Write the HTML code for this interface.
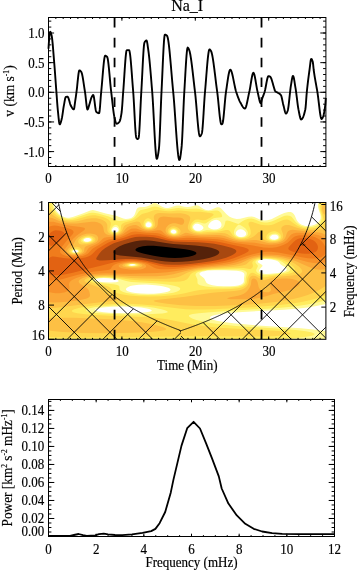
<!DOCTYPE html><html><head><meta charset="utf-8"><style>html,body{margin:0;padding:0;background:#fff;width:357px;height:570px;overflow:hidden}svg{display:block;will-change:transform;filter:blur(0.35px)}text{font-family:"Liberation Serif",serif;stroke:#000;stroke-width:0.18px}</style></head><body><svg xmlns="http://www.w3.org/2000/svg" width="357" height="570" viewBox="0 0 357 570" font-family='"Liberation Serif", serif'><defs><clipPath id="mclip"><rect x="48.5" y="202.5" width="277.4" height="136.8"/></clipPath></defs><rect width="357" height="570" fill="#fff"/>
<text transform="translate(187.2,11.2) scale(0.9259,1)" font-size="17.28" text-anchor="middle" >Na_I</text>
<line x1="48.5" y1="92.3" x2="325.9" y2="92.3" stroke="#777" stroke-width="1.0" />
<line x1="114.56" y1="166.5" x2="114.56" y2="17.5" stroke="#000" stroke-width="1.8" stroke-dasharray="9.6 10.25"/>
<line x1="261.51" y1="166.5" x2="261.51" y2="17.5" stroke="#000" stroke-width="1.8" stroke-dasharray="9.6 10.25"/>
<polyline fill="none" stroke="#000" stroke-width="1.9" stroke-linejoin="round" points="48.50,48.70 48.80,43.89 49.10,39.65 49.40,36.16 49.70,33.58 50.00,32.10 50.30,31.83 50.60,32.20 50.90,32.92 51.20,33.89 51.50,35.01 51.80,36.36 52.10,38.41 52.40,41.07 52.70,44.21 53.00,47.70 53.30,51.40 53.60,55.18 53.90,58.91 54.20,62.48 54.50,66.21 54.80,70.14 55.10,74.21 55.40,78.36 55.70,82.54 56.00,86.67 56.30,90.69 56.60,94.65 56.90,98.76 57.20,102.83 57.50,106.65 57.80,110.02 58.10,112.95 58.40,115.99 58.70,118.92 59.00,121.47 59.30,123.36 59.60,124.33 59.90,124.32 60.20,123.91 60.50,123.22 60.80,122.34 61.10,121.31 61.40,120.23 61.70,119.12 62.00,117.68 62.30,115.92 62.60,113.93 62.90,111.83 63.20,109.72 63.50,107.72 63.80,105.93 64.10,104.33 64.40,102.61 64.70,100.88 65.00,99.31 65.30,98.03 65.60,97.22 65.90,96.97 66.20,96.88 66.50,96.81 66.80,96.75 67.10,96.72 67.40,96.70 67.70,96.77 68.00,97.12 68.30,97.72 68.60,98.52 68.90,99.47 69.20,100.51 69.50,101.61 69.80,102.71 70.10,103.75 70.40,104.70 70.70,105.50 71.00,106.10 71.30,106.59 71.60,107.09 71.90,107.57 72.20,108.03 72.50,108.45 72.80,108.81 73.10,109.10 73.40,109.30 73.70,109.39 74.00,109.10 74.30,107.75 74.60,105.68 74.90,103.36 75.20,101.20 75.50,99.20 75.80,97.09 76.10,94.92 76.40,92.73 76.70,90.45 77.00,87.82 77.30,84.94 77.60,81.97 77.90,79.05 78.20,76.33 78.50,73.96 78.80,72.08 79.10,70.84 79.40,70.40 79.70,70.45 80.00,70.60 80.30,70.82 80.60,71.10 80.90,71.44 81.20,71.80 81.50,72.34 81.80,73.20 82.10,74.32 82.40,75.69 82.70,77.26 83.00,78.99 83.30,80.85 83.60,82.79 83.90,84.80 84.20,86.82 84.50,88.81 84.80,90.76 85.10,92.64 85.40,94.92 85.70,97.56 86.00,100.36 86.30,103.10 86.60,105.59 86.90,107.63 87.20,109.00 87.50,109.50 87.80,109.28 88.10,108.69 88.40,107.82 88.70,106.79 89.00,105.70 89.30,104.64 89.60,103.69 89.90,102.69 90.20,101.61 90.50,100.51 90.80,99.45 91.10,98.50 91.40,97.71 91.70,97.09 92.00,96.48 92.30,95.91 92.60,95.44 92.90,95.12 93.20,95.00 93.50,95.42 93.80,96.56 94.10,98.26 94.40,100.35 94.70,102.66 95.00,105.02 95.30,107.27 95.60,109.24 95.90,110.76 96.20,111.66 96.50,111.98 96.80,112.22 97.10,112.45 97.40,112.64 97.70,112.82 98.00,112.96 98.30,113.07 98.60,113.15 98.90,113.19 99.20,113.10 99.50,111.77 99.80,109.17 100.10,105.71 100.40,101.77 100.70,97.74 101.00,94.02 101.30,90.92 101.60,87.77 101.90,84.38 102.20,80.83 102.50,77.22 102.80,73.62 103.10,70.12 103.40,66.81 103.70,63.77 104.00,61.09 104.30,58.86 104.60,57.16 104.90,56.08 105.20,55.70 105.50,55.73 105.80,55.83 106.10,55.99 106.40,56.19 106.70,56.43 107.00,56.70 107.30,57.14 107.60,58.18 107.90,59.78 108.20,61.86 108.50,64.33 108.80,67.14 109.10,70.18 109.40,73.40 109.70,76.71 110.00,80.03 110.30,83.29 110.60,86.41 110.90,89.30 111.20,91.90 111.50,94.40 111.80,97.00 112.10,99.67 112.40,102.36 112.70,105.01 113.00,107.59 113.30,110.03 113.60,112.31 113.90,114.36 114.20,116.13 114.50,117.59 114.80,118.78 115.10,119.94 115.40,121.04 115.70,122.02 116.00,122.82 116.30,123.40 116.60,123.68 116.90,123.69 117.20,123.62 117.50,123.50 117.80,123.33 118.10,123.11 118.40,122.85 118.70,122.56 119.00,122.22 119.30,121.86 119.60,121.45 119.90,120.80 120.20,119.86 120.50,118.67 120.80,117.24 121.10,115.61 121.40,113.79 121.70,111.76 122.00,108.71 122.30,104.77 122.60,100.37 122.90,95.93 123.20,91.90 123.50,87.98 123.80,83.68 124.10,79.15 124.40,74.51 124.70,69.90 125.00,65.47 125.30,61.34 125.60,57.66 125.90,54.56 126.20,52.17 126.50,50.64 126.80,50.10 127.10,50.10 127.40,50.10 127.70,50.10 128.00,50.10 128.30,50.10 128.60,50.10 128.90,50.10 129.20,50.27 129.50,51.11 129.80,52.59 130.10,54.65 130.40,57.20 130.70,60.18 131.00,63.52 131.30,67.13 131.60,70.96 131.90,74.92 132.20,78.95 132.50,82.97 132.80,86.90 133.10,90.69 133.40,94.53 133.70,99.19 134.00,104.49 134.30,110.16 134.60,115.92 134.90,121.52 135.20,126.70 135.50,131.17 135.80,134.69 136.10,136.98 136.40,137.88 136.70,138.36 137.00,138.73 137.30,138.95 137.60,138.99 137.90,138.89 138.20,138.68 138.50,138.40 138.80,137.13 139.10,134.15 139.40,129.80 139.70,124.41 140.00,118.32 140.30,111.85 140.60,105.35 140.90,99.14 141.20,93.56 141.50,88.55 141.80,83.06 142.10,77.20 142.40,71.20 142.70,65.24 143.00,59.55 143.30,54.34 143.60,49.81 143.90,46.17 144.20,43.63 144.50,42.40 144.80,41.92 145.10,41.50 145.40,41.14 145.70,40.85 146.00,40.64 146.30,40.52 146.60,40.55 146.90,41.24 147.20,42.59 147.50,44.41 147.80,46.51 148.10,48.69 148.40,50.80 148.70,53.08 149.00,55.61 149.30,58.37 149.60,61.34 149.90,64.48 150.20,67.78 150.50,71.21 150.80,74.74 151.10,78.36 151.40,82.03 151.70,85.73 152.00,89.44 152.30,93.17 152.60,97.43 152.90,102.26 153.20,107.54 153.50,113.13 153.80,118.91 154.10,124.76 154.40,130.53 154.70,136.11 155.00,141.35 155.30,146.15 155.60,150.36 155.90,153.86 156.20,156.52 156.50,158.21 156.80,158.80 157.10,158.53 157.40,157.78 157.70,156.60 158.00,155.07 158.30,153.25 158.60,151.20 158.90,149.00 159.20,145.72 159.50,140.65 159.80,134.22 160.10,126.84 160.40,118.92 160.70,110.86 161.00,103.10 161.30,96.02 161.60,89.95 161.90,83.73 162.20,77.15 162.50,70.39 162.80,63.66 163.10,57.17 163.40,51.12 163.70,45.72 164.00,41.16 164.30,37.65 164.60,35.40 164.90,34.60 165.20,34.63 165.50,34.72 165.80,34.87 166.10,35.05 166.40,35.27 166.70,35.53 167.00,35.80 167.30,36.30 167.60,37.21 167.90,38.51 168.20,40.17 168.50,42.14 168.80,44.41 169.10,46.94 169.40,49.71 169.70,52.67 170.00,55.81 170.30,59.09 170.60,62.47 170.90,65.94 171.20,69.46 171.50,72.99 171.80,76.51 172.10,79.99 172.40,83.40 172.70,86.71 173.00,89.88 173.30,92.91 173.60,96.19 173.90,99.77 174.20,103.62 174.50,107.68 174.80,111.90 175.10,116.24 175.40,120.62 175.70,125.02 176.00,129.38 176.30,133.64 176.60,137.76 176.90,141.68 177.20,145.36 177.50,148.74 177.80,151.77 178.10,154.41 178.40,156.60 178.70,158.29 179.00,159.43 179.30,159.96 179.60,159.84 179.90,159.07 180.20,157.74 180.50,155.95 180.80,153.81 181.10,151.41 181.40,148.86 181.70,145.90 182.00,141.52 182.30,135.94 182.60,129.49 182.90,122.48 183.20,115.25 183.50,108.10 183.80,101.36 184.10,95.34 184.40,90.29 184.70,85.25 185.00,80.02 185.30,74.74 185.60,69.54 185.90,64.57 186.20,59.98 186.50,55.90 186.80,52.48 187.10,49.87 187.40,48.19 187.70,47.60 188.00,47.74 188.30,48.13 188.60,48.69 188.90,49.34 189.20,50.04 189.50,50.94 189.80,52.09 190.10,53.46 190.40,55.04 190.70,56.81 191.00,58.75 191.30,60.84 191.60,63.07 191.90,65.41 192.20,67.85 192.50,70.37 192.80,72.94 193.10,75.56 193.40,78.20 193.70,80.84 194.00,83.48 194.30,86.07 194.60,88.62 194.90,91.09 195.20,93.59 195.50,96.42 195.80,99.55 196.10,102.91 196.40,106.43 196.70,110.03 197.00,113.67 197.30,117.25 197.60,120.73 197.90,124.02 198.20,127.06 198.50,129.79 198.80,132.13 199.10,134.01 199.40,135.37 199.70,136.15 200.00,136.29 200.30,136.14 200.60,135.84 200.90,135.41 201.20,134.86 201.50,134.21 201.80,133.50 202.10,132.14 202.40,129.69 202.70,126.33 203.00,122.28 203.30,117.72 203.60,112.86 203.90,107.88 204.20,103.00 204.50,98.40 204.80,94.28 205.10,90.78 205.40,87.29 205.70,83.62 206.00,79.86 206.30,76.05 206.60,72.27 206.90,68.57 207.20,65.01 207.50,61.67 207.80,58.60 208.10,55.87 208.40,53.53 208.70,51.66 209.00,50.31 209.30,49.55 209.60,49.41 209.90,49.56 210.20,49.84 210.50,50.22 210.80,50.65 211.10,51.16 211.40,51.91 211.70,52.90 212.00,54.12 212.30,55.53 212.60,57.14 212.90,58.91 213.20,60.83 213.50,62.88 213.80,65.05 214.10,67.31 214.40,69.65 214.70,72.04 215.00,74.48 215.30,76.94 215.60,79.41 215.90,81.86 216.20,84.28 216.50,86.66 216.80,88.96 217.10,91.18 217.40,93.41 217.70,95.93 218.00,98.72 218.30,101.69 218.60,104.76 218.90,107.85 219.20,110.90 219.50,113.82 219.80,116.53 220.10,118.96 220.40,121.04 220.70,122.68 221.00,123.82 221.30,124.36 221.60,124.36 221.90,124.19 222.20,123.92 222.50,123.54 222.80,122.52 223.10,120.77 223.40,118.44 223.70,115.63 224.00,112.48 224.30,109.11 224.60,105.65 224.90,102.22 225.20,98.94 225.50,95.94 225.80,93.34 226.10,91.24 226.40,89.20 226.70,87.10 227.00,84.99 227.30,82.88 227.60,80.82 227.90,78.84 228.20,76.97 228.50,75.24 228.80,73.68 229.10,72.34 229.40,71.23 229.70,70.40 230.00,69.88 230.30,69.70 230.60,69.82 230.90,70.18 231.20,70.74 231.50,71.50 231.80,72.42 232.10,73.49 232.40,74.69 232.70,75.99 233.00,77.38 233.30,78.83 233.60,80.32 233.90,81.84 234.20,83.35 234.50,84.84 234.80,86.30 235.10,87.68 235.40,88.99 235.70,90.19 236.00,91.26 236.30,92.20 236.60,93.10 236.90,93.98 237.20,94.86 237.50,95.72 237.80,96.56 238.10,97.38 238.40,98.18 238.70,98.94 239.00,99.68 239.30,100.38 239.60,101.04 239.90,101.66 240.20,102.24 240.50,102.77 240.80,103.31 241.10,103.85 241.40,104.40 241.70,104.93 242.00,105.46 242.30,105.97 242.60,106.45 242.90,106.90 243.20,107.30 243.50,107.66 243.80,107.97 244.10,108.21 244.40,108.38 244.70,108.48 245.00,108.48 245.30,108.25 245.60,107.76 245.90,107.05 246.20,106.14 246.50,105.06 246.80,103.83 247.10,102.50 247.40,101.07 247.70,99.59 248.00,98.08 248.30,96.58 248.60,95.09 248.90,93.67 249.20,92.32 249.50,91.01 249.80,89.51 250.10,87.84 250.40,86.05 250.70,84.21 251.00,82.34 251.30,80.51 251.60,78.76 251.90,77.15 252.20,75.71 252.50,74.51 252.80,73.59 253.10,73.01 253.40,72.80 253.70,73.00 254.00,73.57 254.30,74.45 254.60,75.61 254.90,77.00 255.20,78.57 255.50,80.26 255.80,82.05 256.10,83.87 256.40,85.68 256.70,87.44 257.00,89.09 257.30,90.59 257.60,91.90 257.90,93.16 258.20,94.53 258.50,95.95 258.80,97.37 259.10,98.75 259.40,100.03 259.70,101.17 260.00,102.11 260.30,102.81 260.60,103.22 260.90,103.23 261.20,102.37 261.50,101.02 261.80,99.80 262.10,98.88 262.40,98.02 262.70,97.21 263.00,96.41 263.30,95.63 263.60,94.83 263.90,94.01 264.20,93.15 264.50,92.22 264.80,91.19 265.10,89.94 265.40,88.51 265.70,86.97 266.00,85.36 266.30,83.73 266.60,82.13 266.90,80.62 267.20,79.24 267.50,78.06 267.80,77.10 268.10,76.44 268.40,76.12 268.70,76.11 269.00,76.18 269.30,76.29 269.60,76.44 269.90,76.61 270.20,76.80 270.50,77.09 270.80,77.56 271.10,78.17 271.40,78.92 271.70,79.78 272.00,80.72 272.30,81.73 272.60,82.79 272.90,83.87 273.20,84.95 273.50,86.02 273.80,87.04 274.10,88.00 274.40,89.08 274.70,90.19 275.00,90.90 275.30,91.23 275.60,91.49 275.90,91.70 276.20,91.87 276.50,92.02 276.80,92.16 277.10,92.30 277.40,92.47 277.70,92.67 278.00,92.86 278.30,93.04 278.60,93.21 278.90,93.38 279.20,93.56 279.50,93.76 279.80,93.98 280.10,94.23 280.40,94.52 280.70,94.85 281.00,95.25 281.30,95.97 281.60,97.00 281.90,98.27 282.20,99.68 282.50,101.16 282.80,102.63 283.10,104.01 283.40,105.20 283.70,106.35 284.00,107.61 284.30,108.91 284.60,110.17 284.90,111.33 285.20,112.32 285.50,113.07 285.80,113.51 286.10,113.59 286.40,113.38 286.70,112.97 287.00,112.41 287.30,111.73 287.60,111.00 287.90,109.94 288.20,108.33 288.50,106.27 288.80,103.85 289.10,101.18 289.40,98.37 289.70,95.50 290.00,92.69 290.30,90.03 290.60,87.63 290.90,85.58 291.20,83.84 291.50,82.01 291.80,80.19 292.10,78.53 292.40,77.16 292.70,76.24 293.00,75.90 293.30,76.20 293.60,77.03 293.90,78.29 294.20,79.87 294.50,81.68 294.80,83.60 295.10,85.55 295.40,87.41 295.70,89.21 296.00,91.24 296.30,93.46 296.60,95.81 296.90,98.23 297.20,100.66 297.50,103.03 297.80,105.27 298.10,107.34 298.40,109.16 298.70,110.69 299.00,112.20 299.30,113.74 299.60,115.22 299.90,116.58 300.20,117.76 300.50,118.68 300.80,119.28 301.10,119.50 301.40,119.44 301.70,119.27 302.00,118.99 302.30,118.60 302.60,118.10 302.90,117.51 303.20,116.82 303.50,116.03 303.80,115.15 304.10,114.18 304.40,113.13 304.70,112.00 305.00,110.79 305.30,109.50 305.60,107.31 305.90,103.83 306.20,99.70 306.50,95.57 306.80,92.10 307.10,89.24 307.40,86.52 307.70,83.91 308.00,81.40 308.30,78.99 308.60,76.66 308.90,74.39 309.20,72.18 309.50,70.00 309.80,67.62 310.10,65.02 310.40,62.53 310.70,60.47 311.00,59.18 311.30,58.91 311.60,59.13 311.90,59.58 312.20,60.23 312.50,61.04 312.80,62.00 313.10,64.03 313.40,67.16 313.70,70.00 314.00,72.16 314.30,74.19 314.60,76.10 314.90,77.92 315.20,79.66 315.50,81.36 315.80,83.01 316.10,84.66 316.40,86.31 316.70,87.98 317.00,89.70 317.30,91.49 317.60,93.40 317.90,95.55 318.20,97.89 318.50,100.37 318.80,102.92 319.10,105.47 319.40,107.98 319.70,110.37 320.00,112.59 320.30,114.58 320.60,116.27 320.90,117.61 321.20,118.53 321.50,118.97 321.80,118.94 322.10,118.64 322.40,118.15 322.70,117.52 323.00,116.80 323.30,116.03 323.60,115.06 323.90,113.84 324.20,112.35 324.50,110.61 324.80,108.61 325.10,106.35 325.40,103.69 325.70,99.51 325.80,98.00"/>
<line x1="48.5" y1="166.5" x2="48.5" y2="165" stroke="#000" stroke-width="1.0" />
<line x1="48.5" y1="17.5" x2="48.5" y2="19" stroke="#000" stroke-width="1.0" />
<line x1="55.84" y1="166.5" x2="55.84" y2="165" stroke="#000" stroke-width="1.0" />
<line x1="55.84" y1="17.5" x2="55.84" y2="19" stroke="#000" stroke-width="1.0" />
<line x1="63.18" y1="166.5" x2="63.18" y2="165" stroke="#000" stroke-width="1.0" />
<line x1="63.18" y1="17.5" x2="63.18" y2="19" stroke="#000" stroke-width="1.0" />
<line x1="70.52" y1="166.5" x2="70.52" y2="165" stroke="#000" stroke-width="1.0" />
<line x1="70.52" y1="17.5" x2="70.52" y2="19" stroke="#000" stroke-width="1.0" />
<line x1="77.86" y1="166.5" x2="77.86" y2="165" stroke="#000" stroke-width="1.0" />
<line x1="77.86" y1="17.5" x2="77.86" y2="19" stroke="#000" stroke-width="1.0" />
<line x1="85.2" y1="166.5" x2="85.2" y2="165" stroke="#000" stroke-width="1.0" />
<line x1="85.2" y1="17.5" x2="85.2" y2="19" stroke="#000" stroke-width="1.0" />
<line x1="92.54" y1="166.5" x2="92.54" y2="165" stroke="#000" stroke-width="1.0" />
<line x1="92.54" y1="17.5" x2="92.54" y2="19" stroke="#000" stroke-width="1.0" />
<line x1="99.88" y1="166.5" x2="99.88" y2="165" stroke="#000" stroke-width="1.0" />
<line x1="99.88" y1="17.5" x2="99.88" y2="19" stroke="#000" stroke-width="1.0" />
<line x1="107.22" y1="166.5" x2="107.22" y2="165" stroke="#000" stroke-width="1.0" />
<line x1="107.22" y1="17.5" x2="107.22" y2="19" stroke="#000" stroke-width="1.0" />
<line x1="114.56" y1="166.5" x2="114.56" y2="165" stroke="#000" stroke-width="1.0" />
<line x1="114.56" y1="17.5" x2="114.56" y2="19" stroke="#000" stroke-width="1.0" />
<line x1="121.9" y1="166.5" x2="121.9" y2="165" stroke="#000" stroke-width="1.0" />
<line x1="121.9" y1="17.5" x2="121.9" y2="19" stroke="#000" stroke-width="1.0" />
<line x1="129.24" y1="166.5" x2="129.24" y2="165" stroke="#000" stroke-width="1.0" />
<line x1="129.24" y1="17.5" x2="129.24" y2="19" stroke="#000" stroke-width="1.0" />
<line x1="136.58" y1="166.5" x2="136.58" y2="165" stroke="#000" stroke-width="1.0" />
<line x1="136.58" y1="17.5" x2="136.58" y2="19" stroke="#000" stroke-width="1.0" />
<line x1="143.92" y1="166.5" x2="143.92" y2="165" stroke="#000" stroke-width="1.0" />
<line x1="143.92" y1="17.5" x2="143.92" y2="19" stroke="#000" stroke-width="1.0" />
<line x1="151.26" y1="166.5" x2="151.26" y2="165" stroke="#000" stroke-width="1.0" />
<line x1="151.26" y1="17.5" x2="151.26" y2="19" stroke="#000" stroke-width="1.0" />
<line x1="158.6" y1="166.5" x2="158.6" y2="165" stroke="#000" stroke-width="1.0" />
<line x1="158.6" y1="17.5" x2="158.6" y2="19" stroke="#000" stroke-width="1.0" />
<line x1="165.94" y1="166.5" x2="165.94" y2="165" stroke="#000" stroke-width="1.0" />
<line x1="165.94" y1="17.5" x2="165.94" y2="19" stroke="#000" stroke-width="1.0" />
<line x1="173.28" y1="166.5" x2="173.28" y2="165" stroke="#000" stroke-width="1.0" />
<line x1="173.28" y1="17.5" x2="173.28" y2="19" stroke="#000" stroke-width="1.0" />
<line x1="180.62" y1="166.5" x2="180.62" y2="165" stroke="#000" stroke-width="1.0" />
<line x1="180.62" y1="17.5" x2="180.62" y2="19" stroke="#000" stroke-width="1.0" />
<line x1="187.96" y1="166.5" x2="187.96" y2="165" stroke="#000" stroke-width="1.0" />
<line x1="187.96" y1="17.5" x2="187.96" y2="19" stroke="#000" stroke-width="1.0" />
<line x1="195.3" y1="166.5" x2="195.3" y2="165" stroke="#000" stroke-width="1.0" />
<line x1="195.3" y1="17.5" x2="195.3" y2="19" stroke="#000" stroke-width="1.0" />
<line x1="202.64" y1="166.5" x2="202.64" y2="165" stroke="#000" stroke-width="1.0" />
<line x1="202.64" y1="17.5" x2="202.64" y2="19" stroke="#000" stroke-width="1.0" />
<line x1="209.98" y1="166.5" x2="209.98" y2="165" stroke="#000" stroke-width="1.0" />
<line x1="209.98" y1="17.5" x2="209.98" y2="19" stroke="#000" stroke-width="1.0" />
<line x1="217.32" y1="166.5" x2="217.32" y2="165" stroke="#000" stroke-width="1.0" />
<line x1="217.32" y1="17.5" x2="217.32" y2="19" stroke="#000" stroke-width="1.0" />
<line x1="224.66" y1="166.5" x2="224.66" y2="165" stroke="#000" stroke-width="1.0" />
<line x1="224.66" y1="17.5" x2="224.66" y2="19" stroke="#000" stroke-width="1.0" />
<line x1="232" y1="166.5" x2="232" y2="165" stroke="#000" stroke-width="1.0" />
<line x1="232" y1="17.5" x2="232" y2="19" stroke="#000" stroke-width="1.0" />
<line x1="239.34" y1="166.5" x2="239.34" y2="165" stroke="#000" stroke-width="1.0" />
<line x1="239.34" y1="17.5" x2="239.34" y2="19" stroke="#000" stroke-width="1.0" />
<line x1="246.68" y1="166.5" x2="246.68" y2="165" stroke="#000" stroke-width="1.0" />
<line x1="246.68" y1="17.5" x2="246.68" y2="19" stroke="#000" stroke-width="1.0" />
<line x1="254.02" y1="166.5" x2="254.02" y2="165" stroke="#000" stroke-width="1.0" />
<line x1="254.02" y1="17.5" x2="254.02" y2="19" stroke="#000" stroke-width="1.0" />
<line x1="261.36" y1="166.5" x2="261.36" y2="165" stroke="#000" stroke-width="1.0" />
<line x1="261.36" y1="17.5" x2="261.36" y2="19" stroke="#000" stroke-width="1.0" />
<line x1="268.7" y1="166.5" x2="268.7" y2="165" stroke="#000" stroke-width="1.0" />
<line x1="268.7" y1="17.5" x2="268.7" y2="19" stroke="#000" stroke-width="1.0" />
<line x1="276.04" y1="166.5" x2="276.04" y2="165" stroke="#000" stroke-width="1.0" />
<line x1="276.04" y1="17.5" x2="276.04" y2="19" stroke="#000" stroke-width="1.0" />
<line x1="283.38" y1="166.5" x2="283.38" y2="165" stroke="#000" stroke-width="1.0" />
<line x1="283.38" y1="17.5" x2="283.38" y2="19" stroke="#000" stroke-width="1.0" />
<line x1="290.72" y1="166.5" x2="290.72" y2="165" stroke="#000" stroke-width="1.0" />
<line x1="290.72" y1="17.5" x2="290.72" y2="19" stroke="#000" stroke-width="1.0" />
<line x1="298.06" y1="166.5" x2="298.06" y2="165" stroke="#000" stroke-width="1.0" />
<line x1="298.06" y1="17.5" x2="298.06" y2="19" stroke="#000" stroke-width="1.0" />
<line x1="305.4" y1="166.5" x2="305.4" y2="165" stroke="#000" stroke-width="1.0" />
<line x1="305.4" y1="17.5" x2="305.4" y2="19" stroke="#000" stroke-width="1.0" />
<line x1="312.74" y1="166.5" x2="312.74" y2="165" stroke="#000" stroke-width="1.0" />
<line x1="312.74" y1="17.5" x2="312.74" y2="19" stroke="#000" stroke-width="1.0" />
<line x1="320.08" y1="166.5" x2="320.08" y2="165" stroke="#000" stroke-width="1.0" />
<line x1="320.08" y1="17.5" x2="320.08" y2="19" stroke="#000" stroke-width="1.0" />
<line x1="48.5" y1="166.5" x2="48.5" y2="163.3" stroke="#000" stroke-width="1.0" />
<line x1="48.5" y1="17.5" x2="48.5" y2="20.7" stroke="#000" stroke-width="1.0" />
<line x1="121.9" y1="166.5" x2="121.9" y2="163.3" stroke="#000" stroke-width="1.0" />
<line x1="121.9" y1="17.5" x2="121.9" y2="20.7" stroke="#000" stroke-width="1.0" />
<line x1="195.3" y1="166.5" x2="195.3" y2="163.3" stroke="#000" stroke-width="1.0" />
<line x1="195.3" y1="17.5" x2="195.3" y2="20.7" stroke="#000" stroke-width="1.0" />
<line x1="268.7" y1="166.5" x2="268.7" y2="163.3" stroke="#000" stroke-width="1.0" />
<line x1="268.7" y1="17.5" x2="268.7" y2="20.7" stroke="#000" stroke-width="1.0" />
<line x1="48.5" y1="163.46" x2="51.3" y2="163.46" stroke="#000" stroke-width="1.0" />
<line x1="325.9" y1="163.46" x2="323.1" y2="163.46" stroke="#000" stroke-width="1.0" />
<line x1="48.5" y1="157.53" x2="51.3" y2="157.53" stroke="#000" stroke-width="1.0" />
<line x1="325.9" y1="157.53" x2="323.1" y2="157.53" stroke="#000" stroke-width="1.0" />
<line x1="48.5" y1="151.6" x2="51.3" y2="151.6" stroke="#000" stroke-width="1.0" />
<line x1="325.9" y1="151.6" x2="323.1" y2="151.6" stroke="#000" stroke-width="1.0" />
<line x1="48.5" y1="145.67" x2="51.3" y2="145.67" stroke="#000" stroke-width="1.0" />
<line x1="325.9" y1="145.67" x2="323.1" y2="145.67" stroke="#000" stroke-width="1.0" />
<line x1="48.5" y1="139.74" x2="51.3" y2="139.74" stroke="#000" stroke-width="1.0" />
<line x1="325.9" y1="139.74" x2="323.1" y2="139.74" stroke="#000" stroke-width="1.0" />
<line x1="48.5" y1="133.81" x2="51.3" y2="133.81" stroke="#000" stroke-width="1.0" />
<line x1="325.9" y1="133.81" x2="323.1" y2="133.81" stroke="#000" stroke-width="1.0" />
<line x1="48.5" y1="127.88" x2="51.3" y2="127.88" stroke="#000" stroke-width="1.0" />
<line x1="325.9" y1="127.88" x2="323.1" y2="127.88" stroke="#000" stroke-width="1.0" />
<line x1="48.5" y1="121.95" x2="51.3" y2="121.95" stroke="#000" stroke-width="1.0" />
<line x1="325.9" y1="121.95" x2="323.1" y2="121.95" stroke="#000" stroke-width="1.0" />
<line x1="48.5" y1="116.02" x2="51.3" y2="116.02" stroke="#000" stroke-width="1.0" />
<line x1="325.9" y1="116.02" x2="323.1" y2="116.02" stroke="#000" stroke-width="1.0" />
<line x1="48.5" y1="110.09" x2="51.3" y2="110.09" stroke="#000" stroke-width="1.0" />
<line x1="325.9" y1="110.09" x2="323.1" y2="110.09" stroke="#000" stroke-width="1.0" />
<line x1="48.5" y1="104.16" x2="51.3" y2="104.16" stroke="#000" stroke-width="1.0" />
<line x1="325.9" y1="104.16" x2="323.1" y2="104.16" stroke="#000" stroke-width="1.0" />
<line x1="48.5" y1="98.23" x2="51.3" y2="98.23" stroke="#000" stroke-width="1.0" />
<line x1="325.9" y1="98.23" x2="323.1" y2="98.23" stroke="#000" stroke-width="1.0" />
<line x1="48.5" y1="92.3" x2="51.3" y2="92.3" stroke="#000" stroke-width="1.0" />
<line x1="325.9" y1="92.3" x2="323.1" y2="92.3" stroke="#000" stroke-width="1.0" />
<line x1="48.5" y1="86.37" x2="51.3" y2="86.37" stroke="#000" stroke-width="1.0" />
<line x1="325.9" y1="86.37" x2="323.1" y2="86.37" stroke="#000" stroke-width="1.0" />
<line x1="48.5" y1="80.44" x2="51.3" y2="80.44" stroke="#000" stroke-width="1.0" />
<line x1="325.9" y1="80.44" x2="323.1" y2="80.44" stroke="#000" stroke-width="1.0" />
<line x1="48.5" y1="74.51" x2="51.3" y2="74.51" stroke="#000" stroke-width="1.0" />
<line x1="325.9" y1="74.51" x2="323.1" y2="74.51" stroke="#000" stroke-width="1.0" />
<line x1="48.5" y1="68.58" x2="51.3" y2="68.58" stroke="#000" stroke-width="1.0" />
<line x1="325.9" y1="68.58" x2="323.1" y2="68.58" stroke="#000" stroke-width="1.0" />
<line x1="48.5" y1="62.65" x2="51.3" y2="62.65" stroke="#000" stroke-width="1.0" />
<line x1="325.9" y1="62.65" x2="323.1" y2="62.65" stroke="#000" stroke-width="1.0" />
<line x1="48.5" y1="56.72" x2="51.3" y2="56.72" stroke="#000" stroke-width="1.0" />
<line x1="325.9" y1="56.72" x2="323.1" y2="56.72" stroke="#000" stroke-width="1.0" />
<line x1="48.5" y1="50.79" x2="51.3" y2="50.79" stroke="#000" stroke-width="1.0" />
<line x1="325.9" y1="50.79" x2="323.1" y2="50.79" stroke="#000" stroke-width="1.0" />
<line x1="48.5" y1="44.86" x2="51.3" y2="44.86" stroke="#000" stroke-width="1.0" />
<line x1="325.9" y1="44.86" x2="323.1" y2="44.86" stroke="#000" stroke-width="1.0" />
<line x1="48.5" y1="38.93" x2="51.3" y2="38.93" stroke="#000" stroke-width="1.0" />
<line x1="325.9" y1="38.93" x2="323.1" y2="38.93" stroke="#000" stroke-width="1.0" />
<line x1="48.5" y1="33" x2="51.3" y2="33" stroke="#000" stroke-width="1.0" />
<line x1="325.9" y1="33" x2="323.1" y2="33" stroke="#000" stroke-width="1.0" />
<line x1="48.5" y1="27.07" x2="51.3" y2="27.07" stroke="#000" stroke-width="1.0" />
<line x1="325.9" y1="27.07" x2="323.1" y2="27.07" stroke="#000" stroke-width="1.0" />
<line x1="48.5" y1="21.14" x2="51.3" y2="21.14" stroke="#000" stroke-width="1.0" />
<line x1="325.9" y1="21.14" x2="323.1" y2="21.14" stroke="#000" stroke-width="1.0" />
<line x1="48.5" y1="151.6" x2="54.1" y2="151.6" stroke="#000" stroke-width="1.0" />
<line x1="325.9" y1="151.6" x2="320.3" y2="151.6" stroke="#000" stroke-width="1.0" />
<line x1="48.5" y1="121.95" x2="54.1" y2="121.95" stroke="#000" stroke-width="1.0" />
<line x1="325.9" y1="121.95" x2="320.3" y2="121.95" stroke="#000" stroke-width="1.0" />
<line x1="48.5" y1="92.3" x2="54.1" y2="92.3" stroke="#000" stroke-width="1.0" />
<line x1="325.9" y1="92.3" x2="320.3" y2="92.3" stroke="#000" stroke-width="1.0" />
<line x1="48.5" y1="62.65" x2="54.1" y2="62.65" stroke="#000" stroke-width="1.0" />
<line x1="325.9" y1="62.65" x2="320.3" y2="62.65" stroke="#000" stroke-width="1.0" />
<line x1="48.5" y1="33" x2="54.1" y2="33" stroke="#000" stroke-width="1.0" />
<line x1="325.9" y1="33" x2="320.3" y2="33" stroke="#000" stroke-width="1.0" />
<rect x="48.5" y="17.5" width="277.4" height="149" fill="none" stroke="#000" stroke-width="1.0"/>
<text transform="translate(44.6,38) scale(0.8929,1)" font-size="14.56" text-anchor="end" >1.0</text>
<text transform="translate(44.6,67.65) scale(0.8929,1)" font-size="14.56" text-anchor="end" >0.5</text>
<text transform="translate(44.6,97.3) scale(0.8929,1)" font-size="14.56" text-anchor="end" >0.0</text>
<text transform="translate(44.6,126.95) scale(0.8929,1)" font-size="14.56" text-anchor="end" >-0.5</text>
<text transform="translate(44.6,156.6) scale(0.8929,1)" font-size="14.56" text-anchor="end" >-1.0</text>
<text transform="translate(48.5,183.4) scale(0.8929,1)" font-size="14.56" text-anchor="middle" >0</text>
<text transform="translate(122.2,183.4) scale(0.8929,1)" font-size="14.56" text-anchor="middle" >10</text>
<text transform="translate(195.6,183.4) scale(0.8929,1)" font-size="14.56" text-anchor="middle" >20</text>
<text transform="translate(269,183.4) scale(0.8929,1)" font-size="14.56" text-anchor="middle" >30</text>
<text transform="translate(13.8,91) rotate(-90) scale(0.9434,1)" font-size="14.31" text-anchor="middle">v (km s<tspan font-size="8" dy="-5">-1</tspan><tspan dy="5">)</tspan></text>
<g clip-path="url(#mclip)">
<rect x="48.5" y="202.5" width="277.4" height="136.8" fill="#FFFFFF"/>
<path fill="#FFFA96" fill-rule="evenodd" d="M324.75,339.25 48.75,339.25 48.75,202.75 54.17,202.75 54.28,205.25 54.76,207.75 55.56,209.75 56.87,211.75 59.25,214.13 61.75,215.88 64.25,217.05 66.75,217.64 69.25,217.72 72.75,217.11 82.75,213.48 90.25,210.44 92.75,210.05 95.25,210.4 105.75,213.54 115.95,215.75 123.25,218.55 125.75,218.94 128.25,218.85 130.75,218.2 132.43,217.25 133.51,216.25 134.26,215.25 135.01,213.75 136.59,209.25 137.75,207.85 139.32,207.25 144.25,206.9 146.75,206.4 149.25,205.39 152.75,203.42 153.75,203.03 154.75,202.91 156.25,203.24 157.25,203.72 160.75,205.98 162.75,206.99 164.75,207.65 166.75,207.92 168.25,207.9 170.25,207.58 175.75,205.81 177.25,205.51 179.25,205.51 184.25,206.77 187.75,207.12 190.25,206.85 195.25,205.46 196.75,205.31 197.75,205.41 198.75,205.8 202.75,208.52 204.75,209.54 206.25,210.01 208.75,210.19 211.25,209.73 216.25,207.47 217.25,207.17 218.75,207.17 219.75,207.48 221.25,208.51 226.57,214.25 229.25,216.4 231.25,217.5 233.25,218.31 236.75,219.05 240.25,218.87 248.25,216.86 251.75,216.57 254.25,217.04 259.26,219.25 261.75,220.06 264.25,220.45 267.25,220.35 271.4,219.25 280.14,214.75 284.25,213.02 288.25,212.02 290.75,212.11 292.42,212.75 293.75,213.88 294.75,215.54 296.78,220.25 297.85,221.75 299.25,223.16 301.68,224.75 303.25,225.36 305.25,225.9 307.75,226.09 311.17,225.75 314.75,224.64 317.25,223.31 319.25,221.34 320.29,219.25 320.53,218.25 320.59,216.25 320.1,213.75 318.56,209.25 318.07,207.25 317.92,205.25 318.31,202.75 325.75,202.75 325.75,304.2 324.75,304.25 316.25,306.09 309.75,307.24 296.75,308.85 284.25,309.79 242.75,311.9 226.25,313.32 219.19,314.25 214.14,315.25 212.43,315.75 210.75,316.53 210.39,316.75 209.94,317.75 210.86,318.75 213.1,319.75 216.73,320.75 223.75,322.06 233.25,323.32 252.75,325.07 301.05,328.25 313.25,329.41 325.75,331.03 325.75,339.2 324.75,339.25ZM216.94,229.25 218.25,228.87 219.46,228.25 220.17,227.75 221,226.75 221.4,225.75 221.5,224.75 221.19,223.25 220.68,222.25 219.84,221.25 218.25,220.27 216.25,219.8 213.75,220.17 211.25,221.53 209.5,223.25 208.34,225.25 208.13,226.75 208.79,227.75 209.25,228.11 211.25,229.06 213.75,229.5 216.94,229.25ZM150.36,226.75 151.29,225.75 151.45,224.75 151.15,223.75 150.27,222.75 148.75,222.17 147.75,222.34 146.46,223.25 146.1,223.75 145.8,224.75 145.91,225.75 146.75,226.71 147.75,227.12 148.75,227.2 150.36,226.75ZM199.88,230.75 201.75,230.1 203.2,228.75 203.43,227.75 203.04,226.75 202.11,225.75 200.75,224.79 198.75,223.9 197.75,223.67 196.25,223.74 195.25,224.02 194.25,224.69 193.42,225.75 193.08,226.75 193.12,227.75 193.98,229.25 195.25,230.17 196.75,230.68 197.75,230.86 199.88,230.75ZM116.38,232.25 117.36,231.75 118.27,230.75 118.45,229.75 118.18,228.75 117.34,227.75 116.75,227.35 115.75,227.03 114.25,227.3 113.25,227.87 112.48,228.75 112.04,229.75 112.08,230.75 112.82,231.75 113.71,232.25 114.75,232.45 116.38,232.25ZM243.2,236.75 244.25,236.41 245.21,235.75 245.73,235.25 246.16,234.25 246.14,233.25 245.79,232.25 244.25,230.42 242.25,229.4 240.25,229.17 238.25,229.75 236.75,230.97 236,232.25 235.77,233.25 235.88,234.25 236.75,235.53 238.25,236.48 239.75,236.88 241.75,237.01 243.2,236.75ZM175.39,233.25 176.16,232.25 176.15,231.75 175.75,230.77 174.75,230.02 173.25,229.68 172.25,229.93 171.73,230.25 170.99,231.25 171.07,232.25 172.25,233.35 173.75,233.61 175.39,233.25ZM274.77,239.75 277.25,239 278.1,238.25 278.48,237.25 278.37,236.75 278.16,236.25 277.25,235.36 275.75,234.8 273.75,234.72 272.25,235.1 270.59,236.25 270.07,237.25 270.06,237.75 270.61,238.75 272.25,239.57 274.77,239.75ZM87.71,241.75 88.75,241.58 90.61,240.75 91.11,239.75 90.45,238.75 88.75,238.07 86.75,238.06 84.75,238.73 83.68,239.75 83.79,240.75 84.25,241.07 85.75,241.65 87.71,241.75ZM77.35,252.25 78.28,251.25 77.75,250.55 76.75,250.05 74.25,250.03 73.25,250.49 72.51,251.25 73.25,252.22 74.25,252.54 75.75,252.6 77.35,252.25ZM270.63,273.75 278.25,273.02 283.25,272 286.02,270.75 286.71,269.75 286.73,269.25 286.24,268.25 285.13,267.25 281.79,265.25 280.51,264.25 279.07,262.25 278.43,261.75 277.25,261.04 275.13,260.25 271.25,259.43 266.25,259.1 261.25,259.58 259.75,260.02 258.31,260.75 257.84,261.25 257.95,262.25 259.19,263.25 261.09,264.25 262.48,265.25 262.39,266.25 260.25,268.44 259.33,269.75 259.16,270.75 259.62,271.75 261.25,272.91 263.75,273.66 266.25,273.89 270.63,273.75ZM135.65,265.25 134.62,264.25 132.75,264.05 130.45,264.25 129.2,265.25 130.75,265.63 132.75,265.72 134.25,265.62 135.65,265.25ZM230.25,286.25 234.75,285.99 238.25,285.47 241.25,284.49 242.99,283.25 243.65,282.25 243.91,281.25 244,278.25 244.45,275.25 244.3,273.75 243.64,272.75 242.25,271.88 241.25,271.51 236.75,270.78 224.75,270.31 214.75,270.23 207.75,270.61 203.25,271.44 202.01,271.75 200.01,272.75 199.45,273.75 199.8,274.75 200.23,275.25 203.43,277.75 204.39,278.75 206.25,282.54 206.98,283.25 208.9,284.25 212.25,285.17 217.25,285.9 223.75,286.27 230.25,286.25ZM116.05,282.25 117.75,281.83 118.82,281.25 118.17,280.25 115.48,279.25 108.75,278.13 103.75,277.92 98.97,278.25 95.35,279.25 94.9,280.25 96.25,280.97 97.75,281.46 103.75,282.32 110.75,282.58 116.05,282.25ZM159.51,293.25 164.25,292.59 167.73,291.75 169.86,290.75 170.54,289.75 170.02,288.75 168.29,287.75 163.75,286.42 159.75,285.68 155.25,285.13 146.25,284.6 138.75,284.71 132.75,285.38 130.25,286.03 128.75,286.63 126.91,287.75 126.03,288.75 125.96,289.75 126.86,290.75 127.84,291.25 130.95,292.25 135.25,293 140.75,293.52 147.25,293.74 153.75,293.64 159.51,293.25ZM139.9,312.75 146.18,312.25 149.25,311.7 151.14,311.25 151.84,310.25 149.95,309.25 148.07,308.75 141.25,307.55 131.75,306.69 121.75,306.39 111.25,306.69 102.25,307.58 96.76,308.75 95.45,309.25 94.85,310.25 97.02,311.25 98.75,311.57 103.52,312.25 109.25,312.68 124.75,313.14 139.9,312.75Z"/>
<path fill="#FFEC5E" fill-rule="evenodd" d="M165.25,339.25 48.75,339.25 48.75,202.75 52.3,202.75 52.89,206.75 54,209.75 55.75,212.39 58.25,214.86 60.75,216.62 63.25,217.86 65.75,218.62 68.25,218.94 70.75,218.85 74.08,218.25 88.75,213.31 91.25,212.76 93.75,212.63 98.25,213.44 108.75,216.54 111.66,217.75 115.75,220.22 117.25,220.84 119.25,220.94 126.75,220.36 130.75,219.48 133.75,217.94 135.56,216.25 138.75,211.5 140.25,210.31 142.25,209.64 147.75,208.56 152.75,206.85 154.75,206.47 157.25,206.79 162.83,208.75 166.25,209.39 169.75,209.35 175.75,208.16 178.25,207.9 187.75,208.96 196.75,208.53 199.25,208.97 204.68,210.75 207.25,211.18 209.75,211.21 215.25,210.46 217.25,210.5 218.75,211 220.38,212.25 221.47,213.75 222.19,215.75 222.01,216.75 221.33,217.25 216.25,217.67 213.75,218.36 211.25,219.57 206.75,222.74 205.25,223.46 203.75,223.57 199.25,222.32 197.75,222.09 195.25,222.46 193.75,223.4 192.75,224.47 192.1,225.75 191.88,226.75 191.94,227.75 192.32,228.75 193.25,229.87 195.25,231.06 197.75,231.66 199.25,231.73 201.75,231.47 206.25,230.24 207.75,230.15 214.75,230.6 217.25,230.33 219.75,229.67 221.75,228.68 222.95,227.75 223.77,226.75 224.62,224.75 225.46,221.25 225.75,220.85 226.25,220.65 227.25,220.56 229.75,221.09 238.25,224.02 239.25,223.6 242.39,221.25 245.19,219.75 248.25,218.72 251.25,218.45 253.75,218.91 258.75,221.06 261.25,221.89 264.25,222.38 267.25,222.38 269.75,222.02 272.25,221.32 274.75,220.3 282.25,216.69 284.75,215.87 287.25,215.48 289.25,215.66 291.25,216.6 292.46,217.75 295.11,221.25 296.49,222.75 299.05,224.75 300.94,225.75 303.91,226.75 306.75,227.17 310.25,227.16 313.22,226.75 316.51,225.75 318.75,224.41 320.28,222.75 321.4,220.25 321.67,218.25 321.52,216.25 319.79,209.75 319.39,207.25 319.49,204.75 320.02,202.75 325.75,202.75 325.75,300.48 324.75,300.55 318.18,302.25 308.83,304.25 300.75,305.6 291.81,306.75 274.25,308.24 237.25,310.34 210.07,312.25 198.91,313.25 192.75,314.07 190.05,314.75 189.15,315.25 188.88,315.75 189.39,316.75 190.76,317.75 192.78,318.75 195.48,319.75 203.34,321.75 212.25,323.32 222.25,324.62 235.75,325.92 280.87,328.75 298.4,330.25 305.87,331.25 310.84,332.25 312.55,332.75 314.42,333.75 314.51,334.25 314.31,334.75 312.04,335.75 310.75,336.06 303.25,337.27 292.75,338.18 279.25,338.79 257.25,339.13 201.75,338.97 165.25,339.25ZM149.03,227.75 150.25,227.44 151.46,226.75 152.12,225.75 152.22,224.25 151.91,223.25 151.3,222.25 150.25,221.4 148.75,220.9 147.75,221 146.25,221.79 145.25,223.05 144.86,224.25 144.96,225.75 145.64,226.75 146.25,227.16 147.75,227.72 149.03,227.75ZM116.53,232.75 117.83,232.25 118.89,231.25 119.34,230.25 119.42,229.25 119.06,227.75 118.25,226.28 117.14,225.25 115.75,224.82 114.25,225.31 113.25,225.98 112.25,226.99 111.19,228.75 110.93,230.25 111.21,231.25 112.25,232.35 114.25,232.96 115.75,232.96 116.53,232.75ZM244.54,237.25 246.54,236.25 247.48,235.25 247.91,234.25 247.82,232.25 247.21,230.75 245.25,228.27 242.75,226.4 240.25,225.07 239.25,224.76 238.25,224.85 235.95,227.25 234.47,229.75 233.9,232.25 234.26,234.25 234.87,235.25 235.96,236.25 238.25,237.31 239.75,237.61 241.75,237.71 244.54,237.25ZM175.66,233.75 176.55,233.25 177.11,232.25 177.02,231.25 176.77,230.75 175.75,229.67 174.75,229.19 173.25,228.92 171.75,229.33 170.59,230.25 170.2,231.25 170.21,231.75 170.3,232.25 171.03,233.25 173.25,234.13 174.75,234.06 175.66,233.75ZM275.18,240.25 277.75,239.52 278.88,238.75 279.53,237.75 279.66,237.25 279.51,236.25 278.89,235.25 277.75,234.34 276.75,233.87 275.25,233.52 272.75,233.67 270.75,234.46 269.65,235.25 268.84,236.25 268.53,237.75 268.99,238.75 269.75,239.39 270.75,239.88 272.25,240.24 275.18,240.25ZM87.83,242.25 90.25,241.76 91.79,240.75 92.19,239.75 91.75,238.75 91.2,238.25 89.75,237.62 88.75,237.41 86.75,237.44 85.25,237.77 84.12,238.25 83.33,238.75 82.45,239.75 82.4,240.75 83.46,241.75 85.25,242.22 87.83,242.25ZM77.08,252.75 78.48,252.25 79.24,251.25 78.67,250.25 76.75,249.46 75.25,249.36 73.25,249.81 72.34,250.25 71.59,251.25 72.19,252.25 73.25,252.7 75.25,252.98 77.08,252.75ZM267.17,275.25 279.75,273.8 285.49,272.75 288.25,271.79 289.12,271.25 290.07,270.25 290.24,269.25 289.86,268.25 289.03,267.25 282.87,262.25 279.9,260.75 276.72,259.75 270.8,258.75 264.75,258.59 261.75,258.88 259.25,259.4 257.75,259.86 256.14,260.75 255.66,261.25 255.4,262.25 255.95,263.25 257.74,265.25 257.89,266.25 256.26,269.75 256.16,270.75 256.56,271.75 257.52,272.75 258.75,273.57 261.25,274.73 263.75,275.26 267.17,275.25ZM135.24,265.75 136.8,265.25 135.94,264.25 133.75,263.9 131.75,263.87 129.25,264.21 128.08,265.25 129.25,265.69 131.75,266.07 135.24,265.75ZM233.32,287.25 237.75,286.8 240.75,286.06 242.75,285.16 244.45,283.75 245.29,282.25 245.74,278.25 246.88,273.75 246.78,272.75 246.18,271.75 245.75,271.4 244.75,270.74 242.75,270.06 238.75,269.54 221.25,269.46 212.25,269.65 206.75,270.09 201.75,270.89 198.7,271.75 196.7,272.75 195.77,273.75 195.51,274.75 195.58,275.25 197.37,279.25 197.55,283.25 198.27,284.25 200.14,285.25 202.25,285.86 205.75,286.48 213.25,287.2 223.25,287.53 233.32,287.25ZM155.91,294.75 165.25,294.08 173.25,292.75 176.61,291.75 178.72,290.75 179.92,289.75 180.28,288.75 179.65,287.75 177.7,286.75 174.07,285.75 168.75,284.78 162.25,283.93 155.25,283.27 131.25,281.88 126.25,280.91 120.06,279.25 114.83,278.25 109.75,277.65 103.25,277.41 97.25,277.88 95.25,278.27 92.75,279.23 92.16,280.25 93.75,281.39 97.75,282.47 102.25,283.16 113.75,284.37 116.16,284.75 117.88,285.25 118.81,285.75 119.25,286.32 119.46,286.75 119.52,288.75 119.84,289.75 120.72,290.75 123.25,292.07 126.75,293.08 132.75,294.06 139.25,294.63 147.75,294.9 155.91,294.75ZM147.02,314.25 162.25,313.45 165.25,313.04 167.81,312.25 167.31,311.25 164.92,310.25 161.31,309.25 154.25,307.85 147.25,306.84 140.25,306.13 127.75,305.42 113.25,305.51 106.25,305.92 99.75,306.54 94.25,307.34 89.87,308.25 86.96,309.25 85.87,310.25 86.81,311.25 90.47,312.25 96.25,313.04 102.75,313.6 112.25,314.09 124.25,314.4 147.02,314.25Z"/>
<path fill="#FFD64E" fill-rule="evenodd" d="M125.25,337.25 80.25,337.57 63.25,337.39 48.75,336.97 48.75,203.27 51.66,209.75 53.01,211.75 54.31,213.25 56.45,215.25 59.23,217.25 61,218.25 64.25,219.52 68.25,220.24 72.75,220.05 76.7,219.25 87.75,216 90.25,215.48 92.75,215.24 95.25,215.33 98.75,215.93 102.25,216.87 106,218.25 107.9,219.25 109.24,220.25 110.25,221.41 110.84,222.75 110.79,224.75 109.54,228.75 109.46,230.25 109.72,231.25 110.4,232.25 111.75,233.13 114.25,233.65 115.75,233.62 117.42,233.25 119.23,232.25 119.71,231.75 120.38,230.75 120.74,229.75 121.19,225.25 121.81,224.25 122.75,223.49 124.75,222.62 131.75,220.71 134.75,219.45 137.25,217.86 141.25,214.58 142.75,213.78 147.75,212.5 152.25,210.74 154.75,210.02 157.75,209.89 164.75,211.03 168.25,211.27 171.25,211.15 177.25,210.48 180.75,210.48 192.25,211.85 200.25,211.84 211.75,213.18 213.25,213.88 213.49,214.25 213.49,214.75 213.25,215.25 210.85,217.25 206.75,219.53 205.25,220.04 203.75,220.26 202.25,220.18 198.75,219.55 196.75,219.49 195.25,219.84 193.75,220.73 191.75,222.86 190.96,224.25 190.41,225.75 190.32,227.75 190.64,228.75 191.28,229.75 192.75,231 195.25,232.11 197.75,232.62 200.25,232.76 207.75,232.07 217.25,231.68 220.25,231.21 225.75,229.94 227.75,229.9 228.75,230.24 229.75,231.01 232.71,235.25 234.55,236.75 235.75,237.41 237.75,238.09 239.25,238.39 241.75,238.57 244.25,238.35 246.75,237.68 248.52,236.75 250.04,235.25 250.52,234.25 250.74,233.25 250.66,230.75 250.05,228.25 248.6,224.75 248.44,223.75 248.75,222.75 249.25,222.25 250.6,221.75 252.75,221.91 257.75,223.85 260.75,224.67 264.75,225.23 268.75,225.3 271.25,225.01 273.75,224.31 280.75,221.06 283.25,220.11 284.75,219.74 286.75,219.62 288.25,219.84 290.25,220.75 294.98,224.25 297.4,225.75 300.25,227.01 303.25,227.89 307.75,228.49 311.75,228.45 316.25,227.85 319.25,226.84 321.03,225.75 322.17,224.75 323.42,223.25 324.14,221.75 323.94,220.25 320.85,209.75 320.62,207.25 320.96,204.75 321.93,202.75 325.75,202.75 325.75,219.13 324.94,221.75 325.06,222.75 325.75,224.14 325.75,295.51 324.75,295.6 317.25,298.14 309.47,300.25 302.68,301.75 294.33,303.25 277.75,305.33 252.75,307.2 213.75,309.2 202.25,309.51 192.75,309.46 185.75,309.16 178.75,308.6 153.75,305.58 141.75,304.46 129.25,303.85 117.25,303.85 109.75,304.13 100.25,304.81 92.25,305.67 85.25,306.69 79.71,307.75 74.29,309.25 72.26,310.25 71.74,311.25 73.17,312.25 77.11,313.25 83.25,314.12 90.75,314.81 109.75,315.85 144.75,317.05 157.25,317.91 166.83,319.25 191.75,324.31 207.25,326.57 217.75,327.63 228.25,328.37 261.75,329.93 274.91,330.75 281.25,331.36 287.28,332.25 289.28,332.75 290.25,333.25 290.54,333.75 289.68,334.25 288.11,334.75 281.75,335.6 273.75,336.14 263.75,336.48 246.75,336.59 194.75,336.16 125.25,337.25ZM150.01,228.25 151.49,227.75 152.75,226.69 153.26,225.75 153.45,224.75 153.1,222.75 151.98,220.75 151.25,219.85 150.25,219.07 148.75,218.37 147.75,218.31 146.75,218.53 145.05,219.75 143.83,221.75 143.38,223.75 143.67,225.75 144.28,226.75 145.25,227.56 146.25,228.06 147.75,228.39 150.01,228.25ZM176.61,234.25 177.95,233.25 178.42,232.25 178.44,231.75 177.95,230.25 176.37,228.75 174.75,228.05 172.75,227.94 170.75,228.64 169.63,229.75 169.13,231.25 169.28,232.25 169.91,233.25 170.75,233.87 171.75,234.36 173.25,234.68 174.75,234.67 176.61,234.25ZM276.7,240.75 278.75,240 279.75,239.38 280.76,238.25 281.13,237.25 281.15,236.25 280.57,234.75 279.75,233.66 278.25,232.47 277.25,231.92 275.25,231.34 273.75,231.23 272.25,231.42 270.75,231.94 269.25,232.79 267.75,234.05 266.81,235.25 266.36,236.25 266.32,237.75 266.78,238.75 267.85,239.75 269.75,240.6 271.75,241.01 274.75,241.06 276.7,240.75ZM89.47,242.75 92.14,241.75 93.24,240.75 93.62,239.75 93.35,238.75 92.98,238.25 91.25,237.1 88.75,236.55 87.25,236.56 85.25,236.89 82.75,237.93 81.65,238.75 80.86,239.75 80.61,240.75 81.02,241.75 82.75,242.75 84.25,243.06 86.25,243.15 89.47,242.75ZM77.16,253.25 79.25,252.57 79.76,252.25 80.44,251.25 80.17,250.25 79.75,249.84 78.96,249.25 77.75,248.76 75.25,248.53 73.25,248.92 71.75,249.61 70.94,250.25 70.45,251.25 70.9,252.25 72.75,253.13 75.25,253.43 77.16,253.25ZM160.55,296.25 170.25,295.52 178.25,294.49 184.67,293.25 194.25,290.91 199.75,290.04 207.25,289.56 230.75,288.95 235.75,288.6 239.25,288.08 241.25,287.54 243.1,286.75 244.62,285.75 245.75,284.64 246.62,283.25 246.93,282.25 247.34,278.75 248.02,276.75 249.6,274.25 250.58,273.25 251.25,272.9 252.25,272.77 253.75,273.1 259.75,276.12 261.75,276.9 263.25,277.19 265.25,277.22 274.08,275.75 285.75,274.24 289.75,273.46 292.08,272.75 293.91,271.75 294.77,270.75 294.97,269.75 294.88,269.25 294.43,268.25 293.65,267.25 290.23,264.25 287.19,262.25 283.92,260.75 280.75,259.71 275.25,258.56 269.75,257.98 264.75,257.94 258.35,258.75 255.24,259.75 253.52,260.75 252.95,261.25 252.34,262.25 252.29,263.25 252.94,265.25 252.85,266.75 252.25,267.87 250.75,268.99 249.25,269.05 243.75,268.05 239.75,267.93 212.25,268.92 206.25,269.38 201.75,269.99 197.75,270.82 194.75,271.75 192.57,272.75 191.17,273.75 190.22,274.75 188.45,277.75 187.03,279.25 184.25,280.66 180.25,281.52 175.75,281.85 169.75,281.81 140.75,280.4 131.75,279.7 113.25,277.23 104.75,276.75 98.75,276.96 93.75,277.69 91.57,278.25 89.75,279.09 89.44,279.25 88.76,280.25 89.39,281.25 92.25,282.57 95.75,283.51 105.75,285.65 108.85,286.75 110.31,287.75 112.78,290.75 114.11,291.75 117.25,293.19 121.25,294.3 129.25,295.6 139.25,296.37 149.75,296.57 160.55,296.25ZM135.71,266.25 136.75,265.98 138.22,265.25 137.4,264.25 135.25,263.78 132.75,263.57 129.25,263.86 127.75,264.21 126.62,265.25 128.25,266.04 130.25,266.42 132.75,266.52 135.71,266.25Z"/>
<path fill="#FDC044" fill-rule="evenodd" d="M325.25,214.3 324.75,214.67 323.75,214.1 322.75,212.18 322.11,209.75 322,207.75 322.25,206.22 322.75,205.16 323.75,204.45 324.75,204.81 325.75,206 325.75,213.38 325.25,214.3ZM49.75,308.26 48.75,308.32 48.75,212.34 50.75,213.45 56.08,217.25 59.62,219.25 63.25,220.67 66.75,221.49 70.75,221.77 74.75,221.49 78.25,220.88 87.37,218.75 91.75,218.16 96.25,218.3 98.75,218.75 101.25,219.48 103.1,220.25 104.75,221.23 105.91,222.25 106.64,223.25 107.22,224.75 107.35,225.75 107.34,230.25 107.59,231.25 108.13,232.25 109.75,233.54 111.65,234.25 113.25,234.49 115.75,234.44 117.25,234.16 119.54,233.25 120.75,232.35 121.99,230.75 123.76,226.75 124.75,225.6 125.97,224.75 129.89,223.25 136.75,221.58 138.75,221.65 139.75,222.22 140.25,222.73 141.74,225.75 142.42,226.75 143.49,227.75 145.25,228.7 146.75,229.09 148.75,229.25 150.75,229 152.25,228.48 153.47,227.75 154.4,226.75 154.88,225.75 155.08,224.75 154.97,222.75 153.84,218.25 153.77,217.25 154.12,215.75 154.86,214.75 156.25,213.82 157.75,213.32 159.75,213.07 169.75,213.61 180.75,213.34 185.25,214.05 188.29,215.25 189.75,216.57 190.1,217.25 190.25,218.25 189.85,220.25 187.97,225.75 187.81,227.75 188.02,228.75 188.95,230.25 190.14,231.25 191.96,232.25 193.75,232.9 196.75,233.61 201.25,233.99 221.25,233.07 224.75,233.2 227.25,233.93 232.45,237.25 234.25,238.11 236.75,238.94 239.75,239.45 242.75,239.57 245.25,239.38 247.75,238.94 250.05,238.25 252.32,237.25 253.96,236.25 255.74,234.75 257.75,232.65 258.75,232.06 259.75,231.95 260.65,232.25 261.25,233.25 261.69,236.25 262.44,237.75 263.24,238.75 264.39,239.75 266.14,240.75 269.25,241.71 272.25,242.04 275.75,241.86 278.25,241.28 279.75,240.74 281.33,239.75 282.31,238.75 283.05,237.25 283.19,235.25 282.87,233.75 281.4,229.75 281.28,228.75 281.48,227.75 282.15,226.75 283.25,225.91 284.75,225.23 286.25,224.93 288.25,224.95 289.75,225.26 297.75,228.05 300.75,228.86 304.25,229.52 308.25,229.93 312.75,230.03 322.25,229.4 323.75,229.69 325.75,230.42 325.75,286.24 324.75,286.42 319.68,289.75 313.49,292.75 306.96,295.25 300.42,297.25 294.39,298.75 286.25,300.37 277.32,301.75 268.25,302.83 256.75,303.89 244.32,304.75 228.25,305.59 214.75,306.06 196.75,306.08 180.75,305.19 167.28,303.75 160.35,302.75 155.21,301.75 154.03,301.25 153.58,300.75 155.18,300.25 158.57,299.75 185.25,296.83 210.25,292.93 217.75,292.18 234.25,291.01 239.25,290.36 241.25,289.85 243.25,289.05 245.25,287.8 246.42,286.75 247.61,285.25 248.35,283.75 248.73,282.25 249.09,279.25 249.69,277.75 250.75,276.51 252.25,275.75 253.75,275.68 255.25,276.07 257.25,277.07 261.25,279.59 262.75,280.11 264.25,280.16 265.75,279.86 271.75,277.92 275.75,277.07 281.25,276.39 292.25,275.52 296.75,274.83 300.25,273.63 301.5,272.75 302.1,271.75 302.14,270.75 301.46,269.25 300.17,267.75 298.48,266.25 294.06,263.25 288.75,260.75 282.25,258.79 276.63,257.75 270.25,257.16 264.75,257.12 258.75,257.73 253.75,259.04 252,259.75 250.22,260.75 246.25,264.14 245.05,264.75 243.25,265.28 239.75,265.93 233.42,266.75 207.75,268.4 197.75,269.7 193.09,270.75 189.81,271.75 187.2,272.75 180.75,275.93 178.25,276.91 175.1,277.75 171.25,278.35 166.25,278.73 160.75,278.86 141.75,278.48 131.25,277.93 114.25,276.36 105.75,275.91 97.75,276.17 93.75,276.64 90.6,277.25 87.32,278.25 85.4,279.25 84.53,280.25 84.61,281.25 85.61,282.25 87.75,283.37 95.99,286.25 99.26,287.75 100.61,288.75 103.98,292.25 107.08,294.25 110.75,295.79 118.47,298.25 120.29,299.25 119.76,299.75 118.75,300.03 114.49,300.75 89.75,303.41 60.75,307.17 49.75,308.26ZM176.35,235.25 178.88,234.25 179.96,233.25 180.48,232.25 180.61,231.25 180.36,230.25 179.29,228.75 178.06,227.75 176.75,227.02 174.25,226.32 173.25,226.27 171.75,226.52 170.75,226.88 169.25,227.9 168.17,229.25 167.73,230.75 167.94,232.25 168.53,233.25 169.75,234.29 172.25,235.25 174.25,235.45 176.35,235.25ZM86.65,244.25 91.25,243.23 92.51,242.75 94.2,241.75 95.1,240.75 95.47,239.75 95.4,238.75 94.87,237.75 93.25,236.43 91.25,235.67 88.75,235.34 86.75,235.45 84.25,236.01 81.75,237.1 80.08,238.25 78.72,239.75 78.26,240.75 78.16,241.75 78.75,243.14 79.75,243.98 81.25,244.45 82.75,244.56 86.65,244.25ZM77.8,253.75 79.25,253.4 80.66,252.75 81.36,252.25 81.97,251.25 81.96,250.25 81.46,249.25 80.25,247.95 79.25,247.35 77.75,246.9 76.75,246.87 74.25,247.28 71.25,248.52 70.19,249.25 69.27,250.25 68.95,251.25 69.31,252.25 70.79,253.25 72.25,253.69 74.25,253.96 77.8,253.75ZM136.81,266.75 138.8,266.25 140.07,265.25 139.16,264.25 138.25,263.95 135.25,263.29 132.75,263.14 129.25,263.37 126.75,263.93 125.76,264.25 124.76,265.25 126,266.25 129.25,266.94 133.25,267.09 136.81,266.75ZM132.25,332.76 107.25,333.18 82.75,332.93 63.25,332.04 54.75,331.3 48.75,330.55 48.75,318.31 53.75,317.87 59.25,317.67 74.25,317.83 109.69,319.25 129.25,320.63 141.75,322.23 152.17,324.25 160.12,326.25 163.31,327.25 165.54,328.25 166.29,329.25 165.67,329.75 164.51,330.25 158.36,331.25 146.75,332.13 132.25,332.76Z"/>
<path fill="#FBA838" fill-rule="evenodd" d="M60.25,302.27 54.25,302.38 48.75,302.2 48.75,217.46 50.75,217.63 52.25,218.08 59.25,221.06 62.25,222.09 65.75,222.95 69.25,223.44 72.75,223.59 76.75,223.43 91.25,221.7 94.75,221.81 97.28,222.25 100.25,223.44 101.25,224.13 102.25,225.18 103.2,227.25 104.07,231.75 105.03,233.25 106.47,234.25 108.25,234.89 112.25,235.54 114.75,235.51 116.75,235.25 120.03,234.25 121.77,233.25 122.93,232.25 125.75,228.69 127.27,227.25 129.25,226.13 132.75,225.14 135.25,225 136.75,225.26 138.69,226.25 142.27,228.75 145.25,229.87 147.25,230.18 149.25,230.23 151.25,230.03 153.25,229.49 155.61,228.25 157.04,226.75 157.74,224.75 158.03,220.25 158.3,219.25 158.88,218.25 159.75,217.5 160.75,217.03 162.25,216.67 163.75,216.58 166.25,216.7 173.25,217.52 178.25,217.53 180.42,217.75 181.75,218.09 182.75,218.62 183.52,219.25 184.09,220.25 184.26,221.25 183.97,222.75 183.25,223.98 182.25,224.63 180.75,224.75 175.75,223.3 173.25,223.14 171.75,223.46 169.75,224.33 168.25,225.37 166.48,227.25 165.73,228.75 165.53,230.25 165.86,231.75 166.72,233.25 167.75,234.25 169.44,235.25 171.75,235.98 173.25,236.24 175.75,236.28 178.25,235.88 180.25,235.25 184.25,233.23 185.75,232.86 187.75,233.04 194.75,234.63 200.25,235.29 205.25,235.37 217.25,235.1 220.75,235.23 224.75,235.89 233.25,239.28 238.25,240.45 244.25,240.82 253.75,240.03 256.25,240.02 258.75,240.42 263.25,241.86 266.75,242.74 269.75,243.14 272.25,243.24 275.75,243.02 278.25,242.55 280.71,241.75 282.58,240.75 283.82,239.75 285.01,238.25 285.92,236.25 286.83,233.25 287.67,231.75 288.82,230.75 290.75,230.03 292.75,229.87 294.75,229.95 305.25,231.26 318.75,232.38 321.75,232.96 324.75,234.41 325.75,234.61 325.75,269.01 320.25,269.64 317.75,269.55 315.25,269.16 310.25,267.58 296.03,261.25 288.37,258.75 283.25,257.57 277.25,256.61 271.25,256.08 266.25,255.99 259.25,256.54 253.42,257.75 247.98,259.75 241.25,262.98 238.75,263.84 235.01,264.75 227.75,265.84 207.25,267.48 197.75,268.6 186.91,270.75 173.25,274.37 165.75,275.59 156.25,276.22 143.75,276.36 129.75,276.1 107.25,274.83 100.25,274.89 93.75,275.44 87.75,276.5 82.75,278.03 80.3,279.25 79.13,280.25 78.65,281.25 78.82,282.25 79.75,283.41 81.25,284.54 86.49,287.75 87.63,288.75 88.42,289.75 89.34,291.75 89.99,294.75 89.82,296.25 89.03,297.25 87.3,298.25 85.9,298.75 79.41,300.25 69.25,301.61 60.25,302.27ZM79.17,254.25 81.75,253.4 83.36,252.25 84.01,251.25 84.51,247.75 85.39,246.75 87.25,245.86 93.75,243.6 95.35,242.75 96.67,241.75 97.51,240.75 98.01,239.75 98.23,238.75 98.08,237.25 97.1,235.75 95.75,234.8 94.25,234.17 92.25,233.65 90.25,233.43 86.25,233.74 83.75,234.44 81.75,235.27 78.75,237.05 76.77,238.75 75.21,240.75 73.75,243.74 72.98,244.75 68.72,248.25 67.78,249.25 67.18,250.25 66.97,251.25 67.28,252.25 68.33,253.25 69.75,253.91 71.75,254.42 74.25,254.68 76.75,254.62 79.17,254.25ZM137.16,267.75 139.25,267.4 141.25,266.74 142.07,266.25 142.46,265.25 141.37,264.25 138.4,263.25 135.75,262.85 132.75,262.69 129.25,262.84 126.45,263.25 123.38,264.25 122.26,265.25 122.75,266.25 123.25,266.54 124.75,267.11 126.75,267.56 131.75,268 137.16,267.75ZM248.75,299.25 230.81,299.25 227.75,298.8 227.14,298.25 230.12,297.25 238.25,295.79 240.75,295.09 243.25,294.08 245.25,292.81 247.25,290.91 249.48,287.75 250.48,285.75 250.96,284.25 251.32,280.75 251.64,279.75 252.25,278.97 253.25,278.53 254.25,278.58 255.25,279 256.22,279.75 256.98,280.75 257.73,282.75 258.54,286.75 259.25,288.27 260.25,289.66 261.25,290.58 262.75,291.49 265.75,292.3 267.25,292.35 268.75,292.13 270.42,291.25 270.92,290.25 270.9,289.25 269.73,285.25 269.7,283.75 270.03,282.75 270.75,281.75 272.02,280.75 273.75,279.9 275.75,279.25 278.75,278.69 282.75,278.38 286.75,278.44 290.75,278.85 293.25,279.29 296.54,280.25 298.48,281.25 299.46,282.25 299.65,282.75 299.74,283.25 299.48,284.25 298.76,285.25 297.63,286.25 294.75,287.99 289.75,290.03 283.25,291.86 273.25,293.95 266.05,296.25 258.75,298.12 253.75,298.91 248.75,299.25Z"/>
<path fill="#F8922A" fill-rule="evenodd" d="M62.25,292.83 59.25,293.16 55.75,293.17 52.25,292.8 48.75,292.03 48.75,222.1 49.75,221.8 51.25,221.66 53.25,221.82 65.75,224.95 70.25,225.67 80.75,226.89 84.04,227.75 84.75,228.34 85.02,228.75 84.87,229.25 84.06,230.25 76.75,235.59 73.19,238.75 65.78,247.75 64.78,249.25 64.36,250.25 64.24,251.25 64.49,252.25 65.28,253.25 66.75,254.18 68.23,254.75 72.75,255.52 76.25,255.55 79.25,255.23 81.75,254.68 84.03,253.75 85.97,252.25 87.75,249.19 89.06,247.75 90.69,246.75 96.25,244.18 98.25,242.97 99.82,241.75 102.75,238.76 104.25,237.84 106.82,237.25 115.75,236.61 120.25,235.51 123.25,234.12 129.25,229.64 131.25,228.78 133.25,228.38 136.25,228.58 142.75,230.65 147.25,231.4 151.25,231.36 157.75,230.3 159.75,230.19 160.75,230.47 161.75,231.08 165.2,234.25 166.71,235.25 169.75,236.53 173.25,237.22 175.75,237.33 178.25,237.17 185.25,235.82 187.75,235.62 201.25,236.79 218.25,237.19 223.25,237.96 232.55,240.75 237.38,241.75 243.25,242.33 254.75,242.81 264.75,244.43 268.75,244.83 272.25,244.87 276.25,244.52 279.75,243.79 282.25,242.92 284.5,241.75 285.85,240.75 287.33,239.25 290.01,235.75 291.25,234.58 293.25,233.49 296.25,232.85 299.25,232.73 304.25,233 311.25,233.73 315.25,234.4 317.75,235 320.25,235.87 322.75,237.2 324.75,238.72 325.75,238.98 325.75,262.22 319.75,263.25 316.75,263.32 313.75,263.09 307.75,261.96 292.31,257.75 283.75,255.95 278.25,255.12 273.75,254.68 268.75,254.46 264.75,254.54 257.75,255.3 251.75,256.62 247.75,257.88 237.25,261.94 230.25,263.78 223.25,264.85 197.75,267.42 174.58,271.25 167.25,272.22 157.25,272.91 130.55,273.75 123.61,273.75 105.75,273.26 99.75,273.41 93.75,273.91 87.25,274.91 80.75,276.47 75.62,278.25 71.75,280.25 70.48,281.25 69.62,282.25 69.13,283.25 68.95,284.75 69.49,287.75 69.39,288.75 68.89,289.75 67.87,290.75 66.25,291.68 64.25,292.39 62.25,292.83ZM135.71,269.75 140.25,269.44 143.25,268.75 145.31,267.75 145.81,267.25 146.15,266.25 145.66,265.25 144.24,264.25 141.64,263.25 137.75,262.44 133.75,262.09 129.25,262.18 124.25,262.9 120.13,264.25 118.79,265.25 118.58,266.25 119.25,267.06 120.75,267.89 122.75,268.51 129.25,269.52 135.71,269.75Z"/>
<path fill="#F07C1C" fill-rule="evenodd" d="M55.75,280.26 52.25,280.46 48.75,280.28 48.75,227.08 50.39,226.25 52.25,225.74 54.75,225.61 57.25,225.85 66.19,227.75 70.96,229.25 72.25,229.94 73.25,230.9 73.56,232.25 73.24,233.25 72.62,234.25 65.89,241.75 62.32,246.25 60.47,249.25 60.02,251.25 60.21,252.25 60.82,253.25 62.81,254.75 66.25,255.95 71.25,256.7 75.25,256.81 78.75,256.58 82.75,255.89 85.25,255.08 86.96,254.25 88.4,253.25 91.75,249.46 93.21,248.25 99.75,244.58 104.82,241.25 106.69,240.25 109.69,239.25 116.75,237.91 120.75,236.91 125.02,235.25 130.75,232.37 132.75,231.76 135.25,231.49 137.75,231.64 146.25,232.77 155.25,232.94 157.75,233.17 159.98,233.75 167.25,237.08 170.25,237.9 173.25,238.38 178.25,238.51 186.75,237.82 190.25,237.78 217.25,239.27 222.25,240.08 232.25,242.52 236.75,243.37 251.41,245.25 263.75,247.44 268.75,247.86 272.25,247.72 276.25,247.14 279.75,246.3 283.25,245.07 287.25,242.88 288.7,241.75 293.25,237.5 294.75,236.56 296.25,235.93 298.25,235.42 300.25,235.17 305.25,235.22 308.75,235.63 311.89,236.25 315.18,237.25 317.75,238.41 319.86,239.75 321.6,241.25 323.31,243.25 324.75,245.69 325.25,246.23 325.75,246.31 325.75,253.99 325.25,254.01 323.5,255.75 321.25,257.15 319.25,257.86 316.75,258.36 312.75,258.58 307.75,258.22 301.75,257.24 286.25,254.01 278.25,252.54 271.25,251.69 266.25,251.69 260.25,252.46 252.75,254.18 246.75,256.05 233.75,260.74 230.22,261.75 225.25,262.83 218.75,263.84 196.76,266.25 179.25,268.5 173.25,269.08 167.25,269.36 160.75,269.15 156.25,268.38 153.75,267.42 148.11,264.25 145.46,263.25 141.25,262.18 137.75,261.64 134.25,261.36 127.75,261.47 121.25,262.41 117.99,263.25 115.32,264.25 113.48,265.25 112.33,266.25 110.75,268.79 110.21,269.25 108.98,269.75 105.75,270.34 92.75,271.84 86.25,272.93 77.75,274.85 62.75,278.97 59.25,279.76 55.75,280.26Z"/>
<path fill="#E26212" fill-rule="evenodd" d="M53.25,245.43 52.25,245.71 50.75,245.66 49.75,245.24 48.75,244.26 48.75,234.96 49.75,233.48 50.99,232.25 52.25,231.4 53.8,230.75 55.75,230.36 58.25,230.38 60.33,230.75 61.9,231.25 63.65,232.25 64.44,233.25 64.62,234.25 64.37,235.25 63.15,237.25 60.75,239.88 58.25,242.16 55.75,244.08 53.25,245.43ZM62.75,274.75 58.25,275.16 54.75,275.16 51.25,274.76 48.75,274.13 48.75,265.28 49.05,264.75 49.24,263.75 48.75,261.38 48.75,259 49.12,258.25 50.19,257.25 52.25,256.61 53.75,256.61 65.25,258.35 72.75,258.76 79.25,258.46 85.25,257.42 88.25,256.43 90.75,255.14 92.57,253.75 95.75,250.46 97.86,248.75 105.29,244.25 109.01,242.25 112.75,240.85 123.25,238 131.75,235.02 134.75,234.38 137.75,234.16 140.25,234.21 154.75,235.13 158.75,235.94 167.57,238.75 170.75,239.39 174.25,239.82 178.25,239.99 193.25,239.89 209.25,240.79 216.25,241.46 221.75,242.39 243.58,247.25 246.56,248.25 247.52,248.75 248.32,249.25 248.86,250.25 248.35,251.25 247.07,252.25 245.29,253.25 239.84,255.75 233.5,258.25 228.92,259.75 224.25,260.97 213.25,262.88 181.75,266.43 174.75,266.9 168.75,266.94 163.75,266.59 159.25,265.84 146.82,262.25 140.25,260.96 132.75,260.36 125.25,260.57 120.25,261.14 114.14,262.25 100.75,265.82 87.25,268.98 72.89,272.75 66.75,274.1 62.75,274.75ZM308.75,253.76 305.25,253.77 301.75,253.46 294.75,252.14 291.76,251.25 289.56,250.25 288.47,249.25 288.32,248.25 288.77,247.25 289.55,246.25 293.38,242.25 295.64,240.25 297.75,239.01 300.25,238.2 302.75,237.89 306.25,238.06 309.25,238.67 312.75,240.09 314.25,241.06 315.61,242.25 316.8,243.75 317.34,244.75 317.83,246.25 317.94,247.75 317.66,249.25 317.15,250.25 316.3,251.25 315.25,252.04 312.75,253.11 308.75,253.76Z"/>
<path fill="#A84810" fill-rule="evenodd" d="M179.25,264.76 171.25,264.86 164.75,264.39 159.75,263.63 145.25,260.49 136.25,259.32 130.75,259.05 125.25,259.09 107.25,260.36 102.25,260.5 99.75,260.39 97.75,260.06 96.75,259.66 96.19,258.75 96.53,257.75 99.2,253.75 101.72,250.75 105.25,248.01 110.76,244.75 113.75,243.36 116.72,242.25 130.25,238.22 135.25,237.07 139.25,236.64 146.25,236.67 153.18,237.25 157.25,237.98 167.75,240.5 174.25,241.38 179.25,241.7 198.46,242.25 207.75,242.97 214.25,243.75 222.75,245.39 231.31,247.75 234.81,249.25 236.01,250.25 236.37,251.25 236.02,252.25 235.1,253.25 232.91,254.75 230.99,255.75 226.03,257.75 218.98,259.75 211.22,261.25 200.75,262.7 190.25,263.88 179.25,264.76ZM304.75,245.8 303.75,246.01 302.75,245.91 301.81,245.25 301.72,244.75 302.06,244.25 302.78,243.75 303.75,243.62 304.68,243.75 305.4,244.25 305.63,244.75 305.47,245.25 304.75,245.8Z"/>
<path fill="#55220A" fill-rule="evenodd" d="M182.25,261.76 173.25,261.94 165.75,261.47 159.75,260.67 141.25,257.52 120.25,255.49 117.25,254.93 115.25,254.24 113.9,253.25 113.47,252.25 113.51,251.75 114.17,250.25 116.29,248.25 119.59,246.25 124.3,244.25 130.25,242.4 135.25,241.25 140.25,240.55 145.25,240.34 149.25,240.5 153.75,240.97 165.75,242.96 173.25,243.93 195.25,245.5 205.79,246.75 211.25,247.85 215.76,249.25 217.78,250.25 218.4,250.75 218.95,251.25 219.36,252.25 219.08,253.25 217.53,254.75 214.5,256.25 209.95,257.75 203.25,259.23 196.97,260.25 188.75,261.24 182.25,261.76Z"/>
<path fill="#000000" fill-rule="evenodd" d="M181.25,257.77 174.75,258.03 168.25,257.81 161.25,257.04 153.57,255.75 144.12,253.75 138.76,252.25 136.55,251.25 136,250.75 135.51,250.25 135.55,249.25 136.62,248.25 138.75,247.26 142.75,246.27 147.75,245.77 153.75,245.85 163.83,246.75 185.39,249.25 190.78,250.25 193.25,250.97 195.07,251.75 195.86,252.25 196.24,252.75 196.39,253.25 196.24,253.75 195.79,254.25 195.12,254.75 192.78,255.75 188.75,256.77 181.25,257.77Z"/>
<clipPath id="coiL"><polygon points="46.5,197.5 48.65,-39.24 49.31,74.67 49.98,106.35 50.64,125.49 51.31,139.25 51.97,149.99 52.64,158.81 53.3,166.29 53.97,172.78 54.63,178.52 55.3,183.65 55.96,188.31 56.63,192.56 57.29,196.47 57.96,200.1 58.62,203.48 59.29,206.64 59.95,209.61 60.62,212.42 61.28,215.07 61.95,217.58 62.61,219.98 63.28,222.26 63.94,224.44 64.61,226.53 65.27,228.54 65.94,230.47 66.6,232.32 67.27,234.11 67.93,235.83 68.6,237.5 69.27,239.11 69.93,240.67 70.6,242.19 71.26,243.65 71.93,245.08 72.59,246.47 73.26,247.81 73.92,249.12 74.59,250.4 75.25,251.65 75.92,252.86 76.58,254.05 77.25,255.21 77.91,256.34 78.58,257.44 79.24,258.53 79.91,259.59 80.57,260.62 81.24,261.64 81.9,262.63 82.57,263.61 83.23,264.56 83.9,265.5 84.56,266.42 85.23,267.32 85.89,268.21 86.56,269.08 87.22,269.94 87.89,270.78 88.55,271.61 89.22,272.42 89.88,273.22 90.55,274.01 91.21,274.79 91.88,275.55 92.54,276.3 93.21,277.04 93.87,277.77 94.54,278.49 95.2,279.2 95.87,279.9 96.53,280.59 97.2,281.27 97.86,281.94 98.53,282.6 99.19,283.25 99.86,283.9 100.53,284.53 101.19,285.16 101.86,285.78 102.52,286.39 103.19,287 103.85,287.59 104.52,288.18 105.18,288.77 105.85,289.34 106.51,289.91 107.18,290.48 107.84,291.03 108.51,291.58 109.17,292.13 109.84,292.67 110.5,293.2 111.17,293.73 111.83,294.25 112.5,294.77 113.16,295.28 113.83,295.78 114.49,296.28 115.16,296.78 115.82,297.27 116.49,297.75 117.15,298.23 117.82,298.71 118.48,299.18 119.15,299.65 119.81,300.11 120.48,300.57 121.14,301.02 121.81,301.47 122.47,301.92 123.14,302.36 123.8,302.8 124.47,303.24 125.13,303.67 125.8,304.09 126.46,304.52 127.13,304.94 127.79,305.35 128.46,305.76 129.12,306.17 129.79,306.58 130.46,306.98 131.12,307.38 131.79,307.78 132.45,308.17 133.12,308.56 133.78,308.95 134.45,309.33 135.11,309.71 135.78,310.09 136.44,310.46 137.11,310.83 137.77,311.2 138.44,311.57 139.1,311.93 139.77,312.3 140.43,312.65 141.1,313.01 141.76,313.36 142.43,313.71 143.09,314.06 143.76,314.41 144.42,314.75 145.09,315.09 145.75,315.43 146.42,315.77 147.08,316.1 147.75,316.43 148.41,316.76 149.08,317.09 149.74,317.42 150.41,317.74 151.07,318.06 151.74,318.38 152.4,318.7 153.07,319.01 153.73,319.33 154.4,319.64 155.06,319.95 155.73,320.25 156.39,320.56 157.06,320.86 157.72,321.16 158.39,321.46 159.05,321.76 159.72,322.06 160.38,322.35 161.05,322.65 161.72,322.94 162.38,323.23 163.05,323.51 163.71,323.8 164.38,324.08 165.04,324.37 165.71,324.65 166.37,324.93 167.04,325.2 167.7,325.48 168.37,325.75 169.03,326.03 169.7,326.3 170.36,326.57 171.03,326.84 171.69,327.11 172.36,327.37 173.02,327.64 173.69,327.9 174.35,328.16 175.02,328.42 175.68,328.68 176.35,328.94 177.01,329.19 177.68,329.45 178.34,329.7 179.01,329.95 179.67,330.2 180.34,330.45 181,330.7 181,344.3 46.5,344.3"/></clipPath>
<clipPath id="coiR"><polygon points="181,330.7 181.73,330.45 182.46,330.2 183.19,329.95 183.91,329.7 184.64,329.45 185.37,329.19 186.1,328.94 186.82,328.68 187.55,328.42 188.28,328.16 189.01,327.9 189.73,327.64 190.46,327.37 191.19,327.11 191.92,326.84 192.65,326.57 193.37,326.3 194.1,326.03 194.83,325.75 195.56,325.48 196.28,325.2 197.01,324.93 197.74,324.65 198.47,324.36 199.19,324.08 199.92,323.8 200.65,323.51 201.38,323.22 202.11,322.94 202.83,322.64 203.56,322.35 204.29,322.06 205.02,321.76 205.74,321.46 206.47,321.16 207.2,320.86 207.93,320.56 208.65,320.25 209.38,319.95 210.11,319.64 210.84,319.33 211.56,319.01 212.29,318.7 213.02,318.38 213.75,318.06 214.48,317.74 215.2,317.42 215.93,317.09 216.66,316.76 217.39,316.43 218.11,316.1 218.84,315.77 219.57,315.43 220.3,315.09 221.02,314.75 221.75,314.41 222.48,314.06 223.21,313.71 223.93,313.36 224.66,313.01 225.39,312.65 226.12,312.29 226.85,311.93 227.57,311.57 228.3,311.2 229.03,310.83 229.76,310.46 230.48,310.09 231.21,309.71 231.94,309.33 232.67,308.94 233.39,308.56 234.12,308.17 234.85,307.77 235.58,307.38 236.3,306.98 237.03,306.58 237.76,306.17 238.49,305.76 239.22,305.35 239.94,304.93 240.67,304.51 241.4,304.09 242.13,303.66 242.85,303.23 243.58,302.8 244.31,302.36 245.04,301.92 245.76,301.47 246.49,301.02 247.22,300.57 247.95,300.11 248.67,299.65 249.4,299.18 250.13,298.71 250.86,298.23 251.59,297.75 252.31,297.27 253.04,296.77 253.77,296.28 254.5,295.78 255.22,295.27 255.95,294.76 256.68,294.25 257.41,293.72 258.13,293.2 258.86,292.66 259.59,292.13 260.32,291.58 261.04,291.03 261.77,290.47 262.5,289.91 263.23,289.34 263.96,288.76 264.68,288.18 265.41,287.59 266.14,286.99 266.87,286.39 267.59,285.78 268.32,285.16 269.05,284.53 269.78,283.89 270.5,283.25 271.23,282.6 271.96,281.94 272.69,281.27 273.41,280.59 274.14,279.9 274.87,279.2 275.6,278.49 276.33,277.77 277.05,277.04 277.78,276.3 278.51,275.55 279.24,274.78 279.96,274.01 280.69,273.22 281.42,272.42 282.15,271.6 282.87,270.78 283.6,269.93 284.33,269.08 285.06,268.21 285.78,267.32 286.51,266.41 287.24,265.49 287.97,264.56 288.7,263.6 289.42,262.62 290.15,261.63 290.88,260.61 291.61,259.58 292.33,258.52 293.06,257.44 293.79,256.33 294.52,255.2 295.24,254.04 295.97,252.85 296.7,251.64 297.43,250.39 298.15,249.12 298.88,247.8 299.61,246.45 300.34,245.07 301.07,243.64 301.79,242.17 302.52,240.66 303.25,239.1 303.98,237.49 304.7,235.82 305.43,234.09 306.16,232.31 306.89,230.45 307.61,228.52 308.34,226.52 309.07,224.43 309.8,222.24 310.52,219.96 311.25,217.56 311.98,215.05 312.71,212.39 313.44,209.59 314.16,206.62 314.89,203.45 315.62,200.07 316.35,196.44 317.07,192.52 317.8,188.27 318.53,183.61 319.26,178.47 319.98,172.72 320.71,166.22 321.44,158.73 322.17,149.9 322.89,139.13 323.62,125.34 324.35,106.13 325.08,74.25 325.81,-43.68 327.9,197.5 327.9,344.3 181,344.3"/></clipPath>
<path clip-path="url(#coiL)" stroke="#000" stroke-width="0.9" fill="none" d="M-247.6,190L-407.6,350M-282.2,190L-122.2,350M-211.9,190L-371.9,350M-246.5,190L-86.5,350M-176.2,190L-336.2,350M-210.8,190L-50.8,350M-140.5,190L-300.5,350M-175.1,190L-15.1,350M-104.8,190L-264.8,350M-139.4,190L20.6,350M-69.1,190L-229.1,350M-103.7,190L56.3,350M-33.4,190L-193.4,350M-68,190L92,350M2.3,190L-157.7,350M-32.3,190L127.7,350M38,190L-122,350M3.4,190L163.4,350M73.7,190L-86.3,350M39.1,190L199.1,350M109.4,190L-50.6,350M74.8,190L234.8,350M145.1,190L-14.9,350M110.5,190L270.5,350M180.8,190L20.8,350M146.2,190L306.2,350M216.5,190L56.5,350M181.9,190L341.9,350M252.2,190L92.2,350M217.6,190L377.6,350M287.9,190L127.9,350M253.3,190L413.3,350M323.6,190L163.6,350M289,190L449,350M359.3,190L199.3,350M324.7,190L484.7,350M395,190L235,350M360.4,190L520.4,350M430.7,190L270.7,350M396.1,190L556.1,350M466.4,190L306.4,350M431.8,190L591.8,350M502.1,190L342.1,350M467.5,190L627.5,350M537.8,190L377.8,350M503.2,190L663.2,350M573.5,190L413.5,350M538.9,190L698.9,350M609.2,190L449.2,350M574.6,190L734.6,350M644.9,190L484.9,350M610.3,190L770.3,350M680.6,190L520.6,350M646,190L806,350M716.3,190L556.3,350M681.7,190L841.7,350M752,190L592,350M717.4,190L877.4,350M787.7,190L627.7,350M753.1,190L913.1,350M823.4,190L663.4,350M788.8,190L948.8,350M859.1,190L699.1,350M824.5,190L984.5,350"/>
<path clip-path="url(#coiR)" stroke="#000" stroke-width="0.9" fill="none" d="M-251,190L-411,350M-286.4,190L-126.4,350M-215.3,190L-375.3,350M-250.7,190L-90.7,350M-179.6,190L-339.6,350M-215,190L-55,350M-143.9,190L-303.9,350M-179.3,190L-19.3,350M-108.2,190L-268.2,350M-143.6,190L16.4,350M-72.5,190L-232.5,350M-107.9,190L52.1,350M-36.8,190L-196.8,350M-72.2,190L87.8,350M-1.1,190L-161.1,350M-36.5,190L123.5,350M34.6,190L-125.4,350M-0.8,190L159.2,350M70.3,190L-89.7,350M34.9,190L194.9,350M106,190L-54,350M70.6,190L230.6,350M141.7,190L-18.3,350M106.3,190L266.3,350M177.4,190L17.4,350M142,190L302,350M213.1,190L53.1,350M177.7,190L337.7,350M248.8,190L88.8,350M213.4,190L373.4,350M284.5,190L124.5,350M249.1,190L409.1,350M320.2,190L160.2,350M284.8,190L444.8,350M355.9,190L195.9,350M320.5,190L480.5,350M391.6,190L231.6,350M356.2,190L516.2,350M427.3,190L267.3,350M391.9,190L551.9,350M463,190L303,350M427.6,190L587.6,350M498.7,190L338.7,350M463.3,190L623.3,350M534.4,190L374.4,350M499,190L659,350M570.1,190L410.1,350M534.7,190L694.7,350M605.8,190L445.8,350M570.4,190L730.4,350M641.5,190L481.5,350M606.1,190L766.1,350M677.2,190L517.2,350M641.8,190L801.8,350M712.9,190L552.9,350M677.5,190L837.5,350M748.6,190L588.6,350M713.2,190L873.2,350M784.3,190L624.3,350M748.9,190L908.9,350M820,190L660,350M784.6,190L944.6,350M855.7,190L695.7,350M820.3,190L980.3,350"/>
<polyline fill="none" stroke="#000" stroke-width="0.9" points="48.65,-39.24 49.31,74.67 49.98,106.35 50.64,125.49 51.31,139.25 51.97,149.99 52.64,158.81 53.3,166.29 53.97,172.78 54.63,178.52 55.3,183.65 55.96,188.31 56.63,192.56 57.29,196.47 57.96,200.1 58.62,203.48 59.29,206.64 59.95,209.61 60.62,212.42 61.28,215.07 61.95,217.58 62.61,219.98 63.28,222.26 63.94,224.44 64.61,226.53 65.27,228.54 65.94,230.47 66.6,232.32 67.27,234.11 67.93,235.83 68.6,237.5 69.27,239.11 69.93,240.67 70.6,242.19 71.26,243.65 71.93,245.08 72.59,246.47 73.26,247.81 73.92,249.12 74.59,250.4 75.25,251.65 75.92,252.86 76.58,254.05 77.25,255.21 77.91,256.34 78.58,257.44 79.24,258.53 79.91,259.59 80.57,260.62 81.24,261.64 81.9,262.63 82.57,263.61 83.23,264.56 83.9,265.5 84.56,266.42 85.23,267.32 85.89,268.21 86.56,269.08 87.22,269.94 87.89,270.78 88.55,271.61 89.22,272.42 89.88,273.22 90.55,274.01 91.21,274.79 91.88,275.55 92.54,276.3 93.21,277.04 93.87,277.77 94.54,278.49 95.2,279.2 95.87,279.9 96.53,280.59 97.2,281.27 97.86,281.94 98.53,282.6 99.19,283.25 99.86,283.9 100.53,284.53 101.19,285.16 101.86,285.78 102.52,286.39 103.19,287 103.85,287.59 104.52,288.18 105.18,288.77 105.85,289.34 106.51,289.91 107.18,290.48 107.84,291.03 108.51,291.58 109.17,292.13 109.84,292.67 110.5,293.2 111.17,293.73 111.83,294.25 112.5,294.77 113.16,295.28 113.83,295.78 114.49,296.28 115.16,296.78 115.82,297.27 116.49,297.75 117.15,298.23 117.82,298.71 118.48,299.18 119.15,299.65 119.81,300.11 120.48,300.57 121.14,301.02 121.81,301.47 122.47,301.92 123.14,302.36 123.8,302.8 124.47,303.24 125.13,303.67 125.8,304.09 126.46,304.52 127.13,304.94 127.79,305.35 128.46,305.76 129.12,306.17 129.79,306.58 130.46,306.98 131.12,307.38 131.79,307.78 132.45,308.17 133.12,308.56 133.78,308.95 134.45,309.33 135.11,309.71 135.78,310.09 136.44,310.46 137.11,310.83 137.77,311.2 138.44,311.57 139.1,311.93 139.77,312.3 140.43,312.65 141.1,313.01 141.76,313.36 142.43,313.71 143.09,314.06 143.76,314.41 144.42,314.75 145.09,315.09 145.75,315.43 146.42,315.77 147.08,316.1 147.75,316.43 148.41,316.76 149.08,317.09 149.74,317.42 150.41,317.74 151.07,318.06 151.74,318.38 152.4,318.7 153.07,319.01 153.73,319.33 154.4,319.64 155.06,319.95 155.73,320.25 156.39,320.56 157.06,320.86 157.72,321.16 158.39,321.46 159.05,321.76 159.72,322.06 160.38,322.35 161.05,322.65 161.72,322.94 162.38,323.23 163.05,323.51 163.71,323.8 164.38,324.08 165.04,324.37 165.71,324.65 166.37,324.93 167.04,325.2 167.7,325.48 168.37,325.75 169.03,326.03 169.7,326.3 170.36,326.57 171.03,326.84 171.69,327.11 172.36,327.37 173.02,327.64 173.69,327.9 174.35,328.16 175.02,328.42 175.68,328.68 176.35,328.94 177.01,329.19 177.68,329.45 178.34,329.7 179.01,329.95 179.67,330.2 180.34,330.45 181,330.7 181.73,330.45 182.46,330.2 183.19,329.95 183.91,329.7 184.64,329.45 185.37,329.19 186.1,328.94 186.82,328.68 187.55,328.42 188.28,328.16 189.01,327.9 189.73,327.64 190.46,327.37 191.19,327.11 191.92,326.84 192.65,326.57 193.37,326.3 194.1,326.03 194.83,325.75 195.56,325.48 196.28,325.2 197.01,324.93 197.74,324.65 198.47,324.36 199.19,324.08 199.92,323.8 200.65,323.51 201.38,323.22 202.11,322.94 202.83,322.64 203.56,322.35 204.29,322.06 205.02,321.76 205.74,321.46 206.47,321.16 207.2,320.86 207.93,320.56 208.65,320.25 209.38,319.95 210.11,319.64 210.84,319.33 211.56,319.01 212.29,318.7 213.02,318.38 213.75,318.06 214.48,317.74 215.2,317.42 215.93,317.09 216.66,316.76 217.39,316.43 218.11,316.1 218.84,315.77 219.57,315.43 220.3,315.09 221.02,314.75 221.75,314.41 222.48,314.06 223.21,313.71 223.93,313.36 224.66,313.01 225.39,312.65 226.12,312.29 226.85,311.93 227.57,311.57 228.3,311.2 229.03,310.83 229.76,310.46 230.48,310.09 231.21,309.71 231.94,309.33 232.67,308.94 233.39,308.56 234.12,308.17 234.85,307.77 235.58,307.38 236.3,306.98 237.03,306.58 237.76,306.17 238.49,305.76 239.22,305.35 239.94,304.93 240.67,304.51 241.4,304.09 242.13,303.66 242.85,303.23 243.58,302.8 244.31,302.36 245.04,301.92 245.76,301.47 246.49,301.02 247.22,300.57 247.95,300.11 248.67,299.65 249.4,299.18 250.13,298.71 250.86,298.23 251.59,297.75 252.31,297.27 253.04,296.77 253.77,296.28 254.5,295.78 255.22,295.27 255.95,294.76 256.68,294.25 257.41,293.72 258.13,293.2 258.86,292.66 259.59,292.13 260.32,291.58 261.04,291.03 261.77,290.47 262.5,289.91 263.23,289.34 263.96,288.76 264.68,288.18 265.41,287.59 266.14,286.99 266.87,286.39 267.59,285.78 268.32,285.16 269.05,284.53 269.78,283.89 270.5,283.25 271.23,282.6 271.96,281.94 272.69,281.27 273.41,280.59 274.14,279.9 274.87,279.2 275.6,278.49 276.33,277.77 277.05,277.04 277.78,276.3 278.51,275.55 279.24,274.78 279.96,274.01 280.69,273.22 281.42,272.42 282.15,271.6 282.87,270.78 283.6,269.93 284.33,269.08 285.06,268.21 285.78,267.32 286.51,266.41 287.24,265.49 287.97,264.56 288.7,263.6 289.42,262.62 290.15,261.63 290.88,260.61 291.61,259.58 292.33,258.52 293.06,257.44 293.79,256.33 294.52,255.2 295.24,254.04 295.97,252.85 296.7,251.64 297.43,250.39 298.15,249.12 298.88,247.8 299.61,246.45 300.34,245.07 301.07,243.64 301.79,242.17 302.52,240.66 303.25,239.1 303.98,237.49 304.7,235.82 305.43,234.09 306.16,232.31 306.89,230.45 307.61,228.52 308.34,226.52 309.07,224.43 309.8,222.24 310.52,219.96 311.25,217.56 311.98,215.05 312.71,212.39 313.44,209.59 314.16,206.62 314.89,203.45 315.62,200.07 316.35,196.44 317.07,192.52 317.8,188.27 318.53,183.61 319.26,178.47 319.98,172.72 320.71,166.22 321.44,158.73 322.17,149.9 322.89,139.13 323.62,125.34 324.35,106.13 325.08,74.25 325.81,-43.68"/>
<line x1="114.56" y1="339.3" x2="114.56" y2="202.5" stroke="#000" stroke-width="1.8" stroke-dasharray="9.6 10.25"/>
<line x1="261.51" y1="339.3" x2="261.51" y2="202.5" stroke="#000" stroke-width="1.8" stroke-dasharray="9.6 10.25"/>
</g>
<line x1="48.5" y1="339.3" x2="48.5" y2="337.9" stroke="#000" stroke-width="1.0" />
<line x1="48.5" y1="202.5" x2="48.5" y2="203.9" stroke="#000" stroke-width="1.0" />
<line x1="55.84" y1="339.3" x2="55.84" y2="337.9" stroke="#000" stroke-width="1.0" />
<line x1="55.84" y1="202.5" x2="55.84" y2="203.9" stroke="#000" stroke-width="1.0" />
<line x1="63.18" y1="339.3" x2="63.18" y2="337.9" stroke="#000" stroke-width="1.0" />
<line x1="63.18" y1="202.5" x2="63.18" y2="203.9" stroke="#000" stroke-width="1.0" />
<line x1="70.52" y1="339.3" x2="70.52" y2="337.9" stroke="#000" stroke-width="1.0" />
<line x1="70.52" y1="202.5" x2="70.52" y2="203.9" stroke="#000" stroke-width="1.0" />
<line x1="77.86" y1="339.3" x2="77.86" y2="337.9" stroke="#000" stroke-width="1.0" />
<line x1="77.86" y1="202.5" x2="77.86" y2="203.9" stroke="#000" stroke-width="1.0" />
<line x1="85.2" y1="339.3" x2="85.2" y2="337.9" stroke="#000" stroke-width="1.0" />
<line x1="85.2" y1="202.5" x2="85.2" y2="203.9" stroke="#000" stroke-width="1.0" />
<line x1="92.54" y1="339.3" x2="92.54" y2="337.9" stroke="#000" stroke-width="1.0" />
<line x1="92.54" y1="202.5" x2="92.54" y2="203.9" stroke="#000" stroke-width="1.0" />
<line x1="99.88" y1="339.3" x2="99.88" y2="337.9" stroke="#000" stroke-width="1.0" />
<line x1="99.88" y1="202.5" x2="99.88" y2="203.9" stroke="#000" stroke-width="1.0" />
<line x1="107.22" y1="339.3" x2="107.22" y2="337.9" stroke="#000" stroke-width="1.0" />
<line x1="107.22" y1="202.5" x2="107.22" y2="203.9" stroke="#000" stroke-width="1.0" />
<line x1="114.56" y1="339.3" x2="114.56" y2="337.9" stroke="#000" stroke-width="1.0" />
<line x1="114.56" y1="202.5" x2="114.56" y2="203.9" stroke="#000" stroke-width="1.0" />
<line x1="121.9" y1="339.3" x2="121.9" y2="337.9" stroke="#000" stroke-width="1.0" />
<line x1="121.9" y1="202.5" x2="121.9" y2="203.9" stroke="#000" stroke-width="1.0" />
<line x1="129.24" y1="339.3" x2="129.24" y2="337.9" stroke="#000" stroke-width="1.0" />
<line x1="129.24" y1="202.5" x2="129.24" y2="203.9" stroke="#000" stroke-width="1.0" />
<line x1="136.58" y1="339.3" x2="136.58" y2="337.9" stroke="#000" stroke-width="1.0" />
<line x1="136.58" y1="202.5" x2="136.58" y2="203.9" stroke="#000" stroke-width="1.0" />
<line x1="143.92" y1="339.3" x2="143.92" y2="337.9" stroke="#000" stroke-width="1.0" />
<line x1="143.92" y1="202.5" x2="143.92" y2="203.9" stroke="#000" stroke-width="1.0" />
<line x1="151.26" y1="339.3" x2="151.26" y2="337.9" stroke="#000" stroke-width="1.0" />
<line x1="151.26" y1="202.5" x2="151.26" y2="203.9" stroke="#000" stroke-width="1.0" />
<line x1="158.6" y1="339.3" x2="158.6" y2="337.9" stroke="#000" stroke-width="1.0" />
<line x1="158.6" y1="202.5" x2="158.6" y2="203.9" stroke="#000" stroke-width="1.0" />
<line x1="165.94" y1="339.3" x2="165.94" y2="337.9" stroke="#000" stroke-width="1.0" />
<line x1="165.94" y1="202.5" x2="165.94" y2="203.9" stroke="#000" stroke-width="1.0" />
<line x1="173.28" y1="339.3" x2="173.28" y2="337.9" stroke="#000" stroke-width="1.0" />
<line x1="173.28" y1="202.5" x2="173.28" y2="203.9" stroke="#000" stroke-width="1.0" />
<line x1="180.62" y1="339.3" x2="180.62" y2="337.9" stroke="#000" stroke-width="1.0" />
<line x1="180.62" y1="202.5" x2="180.62" y2="203.9" stroke="#000" stroke-width="1.0" />
<line x1="187.96" y1="339.3" x2="187.96" y2="337.9" stroke="#000" stroke-width="1.0" />
<line x1="187.96" y1="202.5" x2="187.96" y2="203.9" stroke="#000" stroke-width="1.0" />
<line x1="195.3" y1="339.3" x2="195.3" y2="337.9" stroke="#000" stroke-width="1.0" />
<line x1="195.3" y1="202.5" x2="195.3" y2="203.9" stroke="#000" stroke-width="1.0" />
<line x1="202.64" y1="339.3" x2="202.64" y2="337.9" stroke="#000" stroke-width="1.0" />
<line x1="202.64" y1="202.5" x2="202.64" y2="203.9" stroke="#000" stroke-width="1.0" />
<line x1="209.98" y1="339.3" x2="209.98" y2="337.9" stroke="#000" stroke-width="1.0" />
<line x1="209.98" y1="202.5" x2="209.98" y2="203.9" stroke="#000" stroke-width="1.0" />
<line x1="217.32" y1="339.3" x2="217.32" y2="337.9" stroke="#000" stroke-width="1.0" />
<line x1="217.32" y1="202.5" x2="217.32" y2="203.9" stroke="#000" stroke-width="1.0" />
<line x1="224.66" y1="339.3" x2="224.66" y2="337.9" stroke="#000" stroke-width="1.0" />
<line x1="224.66" y1="202.5" x2="224.66" y2="203.9" stroke="#000" stroke-width="1.0" />
<line x1="232" y1="339.3" x2="232" y2="337.9" stroke="#000" stroke-width="1.0" />
<line x1="232" y1="202.5" x2="232" y2="203.9" stroke="#000" stroke-width="1.0" />
<line x1="239.34" y1="339.3" x2="239.34" y2="337.9" stroke="#000" stroke-width="1.0" />
<line x1="239.34" y1="202.5" x2="239.34" y2="203.9" stroke="#000" stroke-width="1.0" />
<line x1="246.68" y1="339.3" x2="246.68" y2="337.9" stroke="#000" stroke-width="1.0" />
<line x1="246.68" y1="202.5" x2="246.68" y2="203.9" stroke="#000" stroke-width="1.0" />
<line x1="254.02" y1="339.3" x2="254.02" y2="337.9" stroke="#000" stroke-width="1.0" />
<line x1="254.02" y1="202.5" x2="254.02" y2="203.9" stroke="#000" stroke-width="1.0" />
<line x1="261.36" y1="339.3" x2="261.36" y2="337.9" stroke="#000" stroke-width="1.0" />
<line x1="261.36" y1="202.5" x2="261.36" y2="203.9" stroke="#000" stroke-width="1.0" />
<line x1="268.7" y1="339.3" x2="268.7" y2="337.9" stroke="#000" stroke-width="1.0" />
<line x1="268.7" y1="202.5" x2="268.7" y2="203.9" stroke="#000" stroke-width="1.0" />
<line x1="276.04" y1="339.3" x2="276.04" y2="337.9" stroke="#000" stroke-width="1.0" />
<line x1="276.04" y1="202.5" x2="276.04" y2="203.9" stroke="#000" stroke-width="1.0" />
<line x1="283.38" y1="339.3" x2="283.38" y2="337.9" stroke="#000" stroke-width="1.0" />
<line x1="283.38" y1="202.5" x2="283.38" y2="203.9" stroke="#000" stroke-width="1.0" />
<line x1="290.72" y1="339.3" x2="290.72" y2="337.9" stroke="#000" stroke-width="1.0" />
<line x1="290.72" y1="202.5" x2="290.72" y2="203.9" stroke="#000" stroke-width="1.0" />
<line x1="298.06" y1="339.3" x2="298.06" y2="337.9" stroke="#000" stroke-width="1.0" />
<line x1="298.06" y1="202.5" x2="298.06" y2="203.9" stroke="#000" stroke-width="1.0" />
<line x1="305.4" y1="339.3" x2="305.4" y2="337.9" stroke="#000" stroke-width="1.0" />
<line x1="305.4" y1="202.5" x2="305.4" y2="203.9" stroke="#000" stroke-width="1.0" />
<line x1="312.74" y1="339.3" x2="312.74" y2="337.9" stroke="#000" stroke-width="1.0" />
<line x1="312.74" y1="202.5" x2="312.74" y2="203.9" stroke="#000" stroke-width="1.0" />
<line x1="320.08" y1="339.3" x2="320.08" y2="337.9" stroke="#000" stroke-width="1.0" />
<line x1="320.08" y1="202.5" x2="320.08" y2="203.9" stroke="#000" stroke-width="1.0" />
<line x1="48.5" y1="339.3" x2="48.5" y2="336.5" stroke="#000" stroke-width="1.0" />
<line x1="48.5" y1="202.5" x2="48.5" y2="205.3" stroke="#000" stroke-width="1.0" />
<line x1="121.9" y1="339.3" x2="121.9" y2="336.5" stroke="#000" stroke-width="1.0" />
<line x1="121.9" y1="202.5" x2="121.9" y2="205.3" stroke="#000" stroke-width="1.0" />
<line x1="195.3" y1="339.3" x2="195.3" y2="336.5" stroke="#000" stroke-width="1.0" />
<line x1="195.3" y1="202.5" x2="195.3" y2="205.3" stroke="#000" stroke-width="1.0" />
<line x1="268.7" y1="339.3" x2="268.7" y2="336.5" stroke="#000" stroke-width="1.0" />
<line x1="268.7" y1="202.5" x2="268.7" y2="205.3" stroke="#000" stroke-width="1.0" />
<line x1="48.5" y1="202.5" x2="54" y2="202.5" stroke="#000" stroke-width="1.0" />
<line x1="48.5" y1="236.7" x2="54" y2="236.7" stroke="#000" stroke-width="1.0" />
<line x1="48.5" y1="270.9" x2="54" y2="270.9" stroke="#000" stroke-width="1.0" />
<line x1="48.5" y1="305.1" x2="54" y2="305.1" stroke="#000" stroke-width="1.0" />
<line x1="48.5" y1="339.3" x2="54" y2="339.3" stroke="#000" stroke-width="1.0" />
<line x1="325.9" y1="204.51" x2="321.3" y2="204.51" stroke="#000" stroke-width="1.0" />
<line x1="325.9" y1="238.71" x2="321.3" y2="238.71" stroke="#000" stroke-width="1.0" />
<line x1="325.9" y1="272.91" x2="321.3" y2="272.91" stroke="#000" stroke-width="1.0" />
<line x1="325.9" y1="307.11" x2="321.3" y2="307.11" stroke="#000" stroke-width="1.0" />
<rect x="48.5" y="202.5" width="277.4" height="136.8" fill="none" stroke="#000" stroke-width="1.0"/>
<text transform="translate(44.8,210.6) scale(0.8929,1)" font-size="14.56" text-anchor="end" >1</text>
<text transform="translate(44.8,241.7) scale(0.8929,1)" font-size="14.56" text-anchor="end" >2</text>
<text transform="translate(44.8,275.9) scale(0.8929,1)" font-size="14.56" text-anchor="end" >4</text>
<text transform="translate(44.8,310.1) scale(0.8929,1)" font-size="14.56" text-anchor="end" >8</text>
<text transform="translate(44.8,340.2) scale(0.8929,1)" font-size="14.56" text-anchor="end" >16</text>
<text transform="translate(329.8,210.6) scale(0.8929,1)" font-size="14.56" text-anchor="start" >16</text>
<text transform="translate(329.8,243.71) scale(0.8929,1)" font-size="14.56" text-anchor="start" >8</text>
<text transform="translate(329.8,277.91) scale(0.8929,1)" font-size="14.56" text-anchor="start" >4</text>
<text transform="translate(329.8,312.11) scale(0.8929,1)" font-size="14.56" text-anchor="start" >2</text>
<text transform="translate(48.5,356) scale(0.8929,1)" font-size="14.56" text-anchor="middle" >0</text>
<text transform="translate(122.2,356) scale(0.8929,1)" font-size="14.56" text-anchor="middle" >10</text>
<text transform="translate(195.6,356) scale(0.8929,1)" font-size="14.56" text-anchor="middle" >20</text>
<text transform="translate(269,356) scale(0.8929,1)" font-size="14.56" text-anchor="middle" >30</text>
<text transform="translate(187.3,370.3) scale(0.9434,1)" font-size="13.78" text-anchor="middle" >Time (Min)</text>
<text transform="translate(21.5,270.9) rotate(-90) scale(0.9434,1)" font-size="13.78" text-anchor="middle">Period (Min)</text>
<text transform="translate(353.8,271.4) rotate(-90) scale(0.9434,1)" font-size="13.78" text-anchor="middle">Frequency (mHz)</text>
<polyline fill="none" stroke="#000" stroke-width="1.8" stroke-linejoin="round" points="48.2,536 70,535.8 74,535 78.6,534 83,535.2 86.8,535.8 95.2,535.3 99,534.2 103.8,533.7 108,534.3 115,535 122.3,535.2 132,534.3 142.5,532.9 151.2,531.1 155.4,528.9 159.6,523.2 165.2,512 170.8,492.4 173.4,479.9 177.6,462.1 181.5,445.6 187.2,428.2 193.6,421.8 200,428.5 206.2,443.6 212.1,458.7 218.8,476.4 221.7,488.5 228.4,503.6 236.8,515.4 245.3,523.8 253.7,528.8 262.1,531.5 272.1,533.2 282.2,533.9 299,534.2 334.6,534.2"/>
<line x1="48.5" y1="536.5" x2="48.5" y2="535.1" stroke="#000" stroke-width="1.0" />
<line x1="48.5" y1="399.5" x2="48.5" y2="400.9" stroke="#000" stroke-width="1.0" />
<line x1="60.42" y1="536.5" x2="60.42" y2="535.1" stroke="#000" stroke-width="1.0" />
<line x1="60.42" y1="399.5" x2="60.42" y2="400.9" stroke="#000" stroke-width="1.0" />
<line x1="72.33" y1="536.5" x2="72.33" y2="535.1" stroke="#000" stroke-width="1.0" />
<line x1="72.33" y1="399.5" x2="72.33" y2="400.9" stroke="#000" stroke-width="1.0" />
<line x1="84.25" y1="536.5" x2="84.25" y2="535.1" stroke="#000" stroke-width="1.0" />
<line x1="84.25" y1="399.5" x2="84.25" y2="400.9" stroke="#000" stroke-width="1.0" />
<line x1="96.17" y1="536.5" x2="96.17" y2="535.1" stroke="#000" stroke-width="1.0" />
<line x1="96.17" y1="399.5" x2="96.17" y2="400.9" stroke="#000" stroke-width="1.0" />
<line x1="108.08" y1="536.5" x2="108.08" y2="535.1" stroke="#000" stroke-width="1.0" />
<line x1="108.08" y1="399.5" x2="108.08" y2="400.9" stroke="#000" stroke-width="1.0" />
<line x1="120" y1="536.5" x2="120" y2="535.1" stroke="#000" stroke-width="1.0" />
<line x1="120" y1="399.5" x2="120" y2="400.9" stroke="#000" stroke-width="1.0" />
<line x1="131.92" y1="536.5" x2="131.92" y2="535.1" stroke="#000" stroke-width="1.0" />
<line x1="131.92" y1="399.5" x2="131.92" y2="400.9" stroke="#000" stroke-width="1.0" />
<line x1="143.83" y1="536.5" x2="143.83" y2="535.1" stroke="#000" stroke-width="1.0" />
<line x1="143.83" y1="399.5" x2="143.83" y2="400.9" stroke="#000" stroke-width="1.0" />
<line x1="155.75" y1="536.5" x2="155.75" y2="535.1" stroke="#000" stroke-width="1.0" />
<line x1="155.75" y1="399.5" x2="155.75" y2="400.9" stroke="#000" stroke-width="1.0" />
<line x1="167.67" y1="536.5" x2="167.67" y2="535.1" stroke="#000" stroke-width="1.0" />
<line x1="167.67" y1="399.5" x2="167.67" y2="400.9" stroke="#000" stroke-width="1.0" />
<line x1="179.58" y1="536.5" x2="179.58" y2="535.1" stroke="#000" stroke-width="1.0" />
<line x1="179.58" y1="399.5" x2="179.58" y2="400.9" stroke="#000" stroke-width="1.0" />
<line x1="191.5" y1="536.5" x2="191.5" y2="535.1" stroke="#000" stroke-width="1.0" />
<line x1="191.5" y1="399.5" x2="191.5" y2="400.9" stroke="#000" stroke-width="1.0" />
<line x1="203.42" y1="536.5" x2="203.42" y2="535.1" stroke="#000" stroke-width="1.0" />
<line x1="203.42" y1="399.5" x2="203.42" y2="400.9" stroke="#000" stroke-width="1.0" />
<line x1="215.33" y1="536.5" x2="215.33" y2="535.1" stroke="#000" stroke-width="1.0" />
<line x1="215.33" y1="399.5" x2="215.33" y2="400.9" stroke="#000" stroke-width="1.0" />
<line x1="227.25" y1="536.5" x2="227.25" y2="535.1" stroke="#000" stroke-width="1.0" />
<line x1="227.25" y1="399.5" x2="227.25" y2="400.9" stroke="#000" stroke-width="1.0" />
<line x1="239.17" y1="536.5" x2="239.17" y2="535.1" stroke="#000" stroke-width="1.0" />
<line x1="239.17" y1="399.5" x2="239.17" y2="400.9" stroke="#000" stroke-width="1.0" />
<line x1="251.08" y1="536.5" x2="251.08" y2="535.1" stroke="#000" stroke-width="1.0" />
<line x1="251.08" y1="399.5" x2="251.08" y2="400.9" stroke="#000" stroke-width="1.0" />
<line x1="263" y1="536.5" x2="263" y2="535.1" stroke="#000" stroke-width="1.0" />
<line x1="263" y1="399.5" x2="263" y2="400.9" stroke="#000" stroke-width="1.0" />
<line x1="274.92" y1="536.5" x2="274.92" y2="535.1" stroke="#000" stroke-width="1.0" />
<line x1="274.92" y1="399.5" x2="274.92" y2="400.9" stroke="#000" stroke-width="1.0" />
<line x1="286.83" y1="536.5" x2="286.83" y2="535.1" stroke="#000" stroke-width="1.0" />
<line x1="286.83" y1="399.5" x2="286.83" y2="400.9" stroke="#000" stroke-width="1.0" />
<line x1="298.75" y1="536.5" x2="298.75" y2="535.1" stroke="#000" stroke-width="1.0" />
<line x1="298.75" y1="399.5" x2="298.75" y2="400.9" stroke="#000" stroke-width="1.0" />
<line x1="310.67" y1="536.5" x2="310.67" y2="535.1" stroke="#000" stroke-width="1.0" />
<line x1="310.67" y1="399.5" x2="310.67" y2="400.9" stroke="#000" stroke-width="1.0" />
<line x1="322.58" y1="536.5" x2="322.58" y2="535.1" stroke="#000" stroke-width="1.0" />
<line x1="322.58" y1="399.5" x2="322.58" y2="400.9" stroke="#000" stroke-width="1.0" />
<line x1="334.5" y1="536.5" x2="334.5" y2="535.1" stroke="#000" stroke-width="1.0" />
<line x1="334.5" y1="399.5" x2="334.5" y2="400.9" stroke="#000" stroke-width="1.0" />
<line x1="48.5" y1="536.5" x2="48.5" y2="533.7" stroke="#000" stroke-width="1.0" />
<line x1="48.5" y1="399.5" x2="48.5" y2="402.3" stroke="#000" stroke-width="1.0" />
<line x1="96.17" y1="536.5" x2="96.17" y2="533.7" stroke="#000" stroke-width="1.0" />
<line x1="96.17" y1="399.5" x2="96.17" y2="402.3" stroke="#000" stroke-width="1.0" />
<line x1="143.83" y1="536.5" x2="143.83" y2="533.7" stroke="#000" stroke-width="1.0" />
<line x1="143.83" y1="399.5" x2="143.83" y2="402.3" stroke="#000" stroke-width="1.0" />
<line x1="191.5" y1="536.5" x2="191.5" y2="533.7" stroke="#000" stroke-width="1.0" />
<line x1="191.5" y1="399.5" x2="191.5" y2="402.3" stroke="#000" stroke-width="1.0" />
<line x1="239.17" y1="536.5" x2="239.17" y2="533.7" stroke="#000" stroke-width="1.0" />
<line x1="239.17" y1="399.5" x2="239.17" y2="402.3" stroke="#000" stroke-width="1.0" />
<line x1="286.83" y1="536.5" x2="286.83" y2="533.7" stroke="#000" stroke-width="1.0" />
<line x1="286.83" y1="399.5" x2="286.83" y2="402.3" stroke="#000" stroke-width="1.0" />
<line x1="334.5" y1="536.5" x2="334.5" y2="533.7" stroke="#000" stroke-width="1.0" />
<line x1="334.5" y1="399.5" x2="334.5" y2="402.3" stroke="#000" stroke-width="1.0" />
<line x1="48.5" y1="536.5" x2="51.4" y2="536.5" stroke="#000" stroke-width="1.0" />
<line x1="334.5" y1="536.5" x2="331.6" y2="536.5" stroke="#000" stroke-width="1.0" />
<line x1="48.5" y1="532" x2="51.4" y2="532" stroke="#000" stroke-width="1.0" />
<line x1="334.5" y1="532" x2="331.6" y2="532" stroke="#000" stroke-width="1.0" />
<line x1="48.5" y1="527.5" x2="51.4" y2="527.5" stroke="#000" stroke-width="1.0" />
<line x1="334.5" y1="527.5" x2="331.6" y2="527.5" stroke="#000" stroke-width="1.0" />
<line x1="48.5" y1="522.99" x2="51.4" y2="522.99" stroke="#000" stroke-width="1.0" />
<line x1="334.5" y1="522.99" x2="331.6" y2="522.99" stroke="#000" stroke-width="1.0" />
<line x1="48.5" y1="518.49" x2="51.4" y2="518.49" stroke="#000" stroke-width="1.0" />
<line x1="334.5" y1="518.49" x2="331.6" y2="518.49" stroke="#000" stroke-width="1.0" />
<line x1="48.5" y1="513.99" x2="51.4" y2="513.99" stroke="#000" stroke-width="1.0" />
<line x1="334.5" y1="513.99" x2="331.6" y2="513.99" stroke="#000" stroke-width="1.0" />
<line x1="48.5" y1="509.49" x2="51.4" y2="509.49" stroke="#000" stroke-width="1.0" />
<line x1="334.5" y1="509.49" x2="331.6" y2="509.49" stroke="#000" stroke-width="1.0" />
<line x1="48.5" y1="504.98" x2="51.4" y2="504.98" stroke="#000" stroke-width="1.0" />
<line x1="334.5" y1="504.98" x2="331.6" y2="504.98" stroke="#000" stroke-width="1.0" />
<line x1="48.5" y1="500.48" x2="51.4" y2="500.48" stroke="#000" stroke-width="1.0" />
<line x1="334.5" y1="500.48" x2="331.6" y2="500.48" stroke="#000" stroke-width="1.0" />
<line x1="48.5" y1="495.98" x2="51.4" y2="495.98" stroke="#000" stroke-width="1.0" />
<line x1="334.5" y1="495.98" x2="331.6" y2="495.98" stroke="#000" stroke-width="1.0" />
<line x1="48.5" y1="491.48" x2="51.4" y2="491.48" stroke="#000" stroke-width="1.0" />
<line x1="334.5" y1="491.48" x2="331.6" y2="491.48" stroke="#000" stroke-width="1.0" />
<line x1="48.5" y1="486.97" x2="51.4" y2="486.97" stroke="#000" stroke-width="1.0" />
<line x1="334.5" y1="486.97" x2="331.6" y2="486.97" stroke="#000" stroke-width="1.0" />
<line x1="48.5" y1="482.47" x2="51.4" y2="482.47" stroke="#000" stroke-width="1.0" />
<line x1="334.5" y1="482.47" x2="331.6" y2="482.47" stroke="#000" stroke-width="1.0" />
<line x1="48.5" y1="477.97" x2="51.4" y2="477.97" stroke="#000" stroke-width="1.0" />
<line x1="334.5" y1="477.97" x2="331.6" y2="477.97" stroke="#000" stroke-width="1.0" />
<line x1="48.5" y1="473.46" x2="51.4" y2="473.46" stroke="#000" stroke-width="1.0" />
<line x1="334.5" y1="473.46" x2="331.6" y2="473.46" stroke="#000" stroke-width="1.0" />
<line x1="48.5" y1="468.96" x2="51.4" y2="468.96" stroke="#000" stroke-width="1.0" />
<line x1="334.5" y1="468.96" x2="331.6" y2="468.96" stroke="#000" stroke-width="1.0" />
<line x1="48.5" y1="464.46" x2="51.4" y2="464.46" stroke="#000" stroke-width="1.0" />
<line x1="334.5" y1="464.46" x2="331.6" y2="464.46" stroke="#000" stroke-width="1.0" />
<line x1="48.5" y1="459.96" x2="51.4" y2="459.96" stroke="#000" stroke-width="1.0" />
<line x1="334.5" y1="459.96" x2="331.6" y2="459.96" stroke="#000" stroke-width="1.0" />
<line x1="48.5" y1="455.45" x2="51.4" y2="455.45" stroke="#000" stroke-width="1.0" />
<line x1="334.5" y1="455.45" x2="331.6" y2="455.45" stroke="#000" stroke-width="1.0" />
<line x1="48.5" y1="450.95" x2="51.4" y2="450.95" stroke="#000" stroke-width="1.0" />
<line x1="334.5" y1="450.95" x2="331.6" y2="450.95" stroke="#000" stroke-width="1.0" />
<line x1="48.5" y1="446.45" x2="51.4" y2="446.45" stroke="#000" stroke-width="1.0" />
<line x1="334.5" y1="446.45" x2="331.6" y2="446.45" stroke="#000" stroke-width="1.0" />
<line x1="48.5" y1="441.95" x2="51.4" y2="441.95" stroke="#000" stroke-width="1.0" />
<line x1="334.5" y1="441.95" x2="331.6" y2="441.95" stroke="#000" stroke-width="1.0" />
<line x1="48.5" y1="437.44" x2="51.4" y2="437.44" stroke="#000" stroke-width="1.0" />
<line x1="334.5" y1="437.44" x2="331.6" y2="437.44" stroke="#000" stroke-width="1.0" />
<line x1="48.5" y1="432.94" x2="51.4" y2="432.94" stroke="#000" stroke-width="1.0" />
<line x1="334.5" y1="432.94" x2="331.6" y2="432.94" stroke="#000" stroke-width="1.0" />
<line x1="48.5" y1="428.44" x2="51.4" y2="428.44" stroke="#000" stroke-width="1.0" />
<line x1="334.5" y1="428.44" x2="331.6" y2="428.44" stroke="#000" stroke-width="1.0" />
<line x1="48.5" y1="423.94" x2="51.4" y2="423.94" stroke="#000" stroke-width="1.0" />
<line x1="334.5" y1="423.94" x2="331.6" y2="423.94" stroke="#000" stroke-width="1.0" />
<line x1="48.5" y1="419.44" x2="51.4" y2="419.44" stroke="#000" stroke-width="1.0" />
<line x1="334.5" y1="419.44" x2="331.6" y2="419.44" stroke="#000" stroke-width="1.0" />
<line x1="48.5" y1="414.93" x2="51.4" y2="414.93" stroke="#000" stroke-width="1.0" />
<line x1="334.5" y1="414.93" x2="331.6" y2="414.93" stroke="#000" stroke-width="1.0" />
<line x1="48.5" y1="410.43" x2="51.4" y2="410.43" stroke="#000" stroke-width="1.0" />
<line x1="334.5" y1="410.43" x2="331.6" y2="410.43" stroke="#000" stroke-width="1.0" />
<line x1="48.5" y1="405.93" x2="51.4" y2="405.93" stroke="#000" stroke-width="1.0" />
<line x1="334.5" y1="405.93" x2="331.6" y2="405.93" stroke="#000" stroke-width="1.0" />
<line x1="48.5" y1="401.42" x2="51.4" y2="401.42" stroke="#000" stroke-width="1.0" />
<line x1="334.5" y1="401.42" x2="331.6" y2="401.42" stroke="#000" stroke-width="1.0" />
<line x1="48.5" y1="536.5" x2="54.3" y2="536.5" stroke="#000" stroke-width="1.0" />
<line x1="334.5" y1="536.5" x2="328.7" y2="536.5" stroke="#000" stroke-width="1.0" />
<line x1="48.5" y1="518.49" x2="54.3" y2="518.49" stroke="#000" stroke-width="1.0" />
<line x1="334.5" y1="518.49" x2="328.7" y2="518.49" stroke="#000" stroke-width="1.0" />
<line x1="48.5" y1="500.48" x2="54.3" y2="500.48" stroke="#000" stroke-width="1.0" />
<line x1="334.5" y1="500.48" x2="328.7" y2="500.48" stroke="#000" stroke-width="1.0" />
<line x1="48.5" y1="482.47" x2="54.3" y2="482.47" stroke="#000" stroke-width="1.0" />
<line x1="334.5" y1="482.47" x2="328.7" y2="482.47" stroke="#000" stroke-width="1.0" />
<line x1="48.5" y1="464.46" x2="54.3" y2="464.46" stroke="#000" stroke-width="1.0" />
<line x1="334.5" y1="464.46" x2="328.7" y2="464.46" stroke="#000" stroke-width="1.0" />
<line x1="48.5" y1="446.45" x2="54.3" y2="446.45" stroke="#000" stroke-width="1.0" />
<line x1="334.5" y1="446.45" x2="328.7" y2="446.45" stroke="#000" stroke-width="1.0" />
<line x1="48.5" y1="428.44" x2="54.3" y2="428.44" stroke="#000" stroke-width="1.0" />
<line x1="334.5" y1="428.44" x2="328.7" y2="428.44" stroke="#000" stroke-width="1.0" />
<line x1="48.5" y1="410.43" x2="54.3" y2="410.43" stroke="#000" stroke-width="1.0" />
<line x1="334.5" y1="410.43" x2="328.7" y2="410.43" stroke="#000" stroke-width="1.0" />
<rect x="48.5" y="399.5" width="286" height="137" fill="none" stroke="#000" stroke-width="1.0"/>
<text transform="translate(44.3,536.3) scale(0.8929,1)" font-size="14.56" text-anchor="end" >0.00</text>
<text transform="translate(44.3,523.49) scale(0.8929,1)" font-size="14.56" text-anchor="end" >0.02</text>
<text transform="translate(44.3,505.48) scale(0.8929,1)" font-size="14.56" text-anchor="end" >0.04</text>
<text transform="translate(44.3,487.47) scale(0.8929,1)" font-size="14.56" text-anchor="end" >0.06</text>
<text transform="translate(44.3,469.46) scale(0.8929,1)" font-size="14.56" text-anchor="end" >0.08</text>
<text transform="translate(44.3,451.45) scale(0.8929,1)" font-size="14.56" text-anchor="end" >0.10</text>
<text transform="translate(44.3,433.44) scale(0.8929,1)" font-size="14.56" text-anchor="end" >0.12</text>
<text transform="translate(44.3,415.43) scale(0.8929,1)" font-size="14.56" text-anchor="end" >0.14</text>
<text transform="translate(48.5,553.6) scale(0.8929,1)" font-size="14.56" text-anchor="middle" >0</text>
<text transform="translate(96.17,553.6) scale(0.8929,1)" font-size="14.56" text-anchor="middle" >2</text>
<text transform="translate(143.83,553.6) scale(0.8929,1)" font-size="14.56" text-anchor="middle" >4</text>
<text transform="translate(191.5,553.6) scale(0.8929,1)" font-size="14.56" text-anchor="middle" >6</text>
<text transform="translate(239.17,553.6) scale(0.8929,1)" font-size="14.56" text-anchor="middle" >8</text>
<text transform="translate(286.83,553.6) scale(0.8929,1)" font-size="14.56" text-anchor="middle" >10</text>
<text transform="translate(334.5,553.6) scale(0.8929,1)" font-size="14.56" text-anchor="middle" >12</text>
<text transform="translate(191.5,566.8) scale(0.9434,1)" font-size="13.78" text-anchor="middle" >Frequency (mHz)</text>
<text transform="translate(12.4,467.9) rotate(-90) scale(0.9434,1)" font-size="14.1" text-anchor="middle">Power [km<tspan font-size="8" dy="-5">2</tspan><tspan dy="5"> s</tspan><tspan font-size="8" dy="-5">-2</tspan><tspan dy="5"> mHz</tspan><tspan font-size="8" dy="-5">-1</tspan><tspan dy="5">]</tspan></text></svg></body></html>
